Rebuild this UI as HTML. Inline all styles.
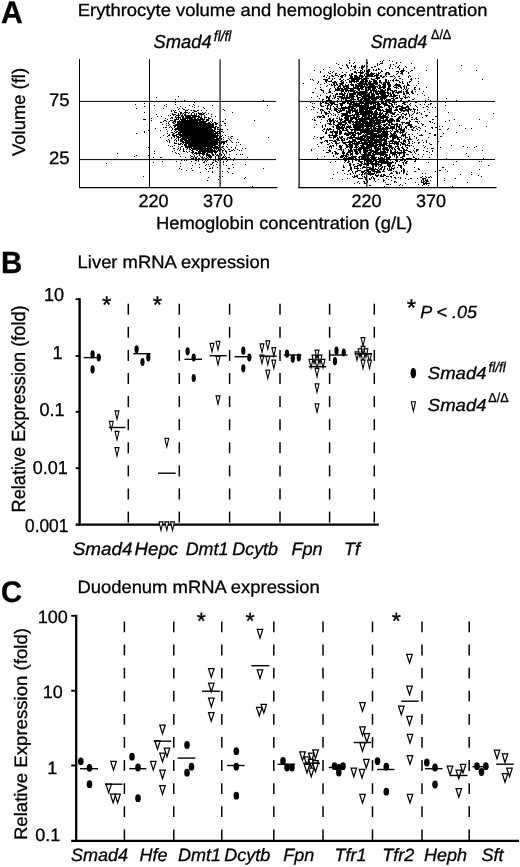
<!DOCTYPE html>
<html lang="en"><head><meta charset="utf-8"><title>Figure</title>
<style>html,body{margin:0;padding:0;background:#fff;overflow:hidden}svg{display:block}text{font-family:'Liberation Sans', sans-serif;fill:#000;stroke:#000;stroke-width:0.3px}</style>
</head><body>
<svg width="520" height="867" viewBox="0 0 520 867" shape-rendering="auto" text-rendering="geometricPrecision">
<rect width="520" height="867" fill="#fff"/>
<text transform="translate(1.0,22.7) scale(0.963,1)" font-size="31.3" font-weight="bold" stroke="none" text-anchor="start">A</text>
<text transform="translate(77.7,16) scale(1.053,1)" font-size="17.5" text-anchor="start">Erythrocyte volume and hemoglobin concentration</text>
<text transform="translate(153.6,47.85) scale(0.984,1)" font-size="18.6" font-style="italic" text-anchor="start">Smad4</text>
<text transform="translate(213.8,41.3) scale(0.95,1)" font-size="14.5" font-style="italic" text-anchor="start">fl/fl</text>
<text transform="translate(370.7,47.85) scale(0.96,1)" font-size="18.6" font-style="italic" text-anchor="start">Smad4</text>
<text transform="translate(431,38.7) scale(0.93,1)" font-size="13.5" text-anchor="start">Δ/Δ</text>
<text transform="translate(25.2,155.9) rotate(-90) scale(1.012,1)" font-size="18.2" text-anchor="start">Volume (fl)</text>
<text transform="translate(49,105.9) scale(1.03,1)" font-size="18" text-anchor="start">75</text>
<text transform="translate(49,163.5) scale(1.03,1)" font-size="18" text-anchor="start">25</text>
<text transform="translate(138.5,207)" font-size="18" text-anchor="start">220</text>
<text transform="translate(203,207)" font-size="18" text-anchor="start">370</text>
<text transform="translate(351.5,207)" font-size="18" text-anchor="start">220</text>
<text transform="translate(416,207)" font-size="18" text-anchor="start">370</text>
<text transform="translate(156,228.7) scale(1.05,1)" font-size="17.5" text-anchor="start">Hemoglobin concentration (g/L)</text>
<line x1="79.5" y1="59" x2="79.5" y2="188" stroke="#000" stroke-width="1"/>
<line x1="79" y1="187.6" x2="277.5" y2="187.6" stroke="#000" stroke-width="1.2"/>
<line x1="149.5" y1="59" x2="149.5" y2="188" stroke="#000" stroke-width="1"/>
<line x1="220.1" y1="59.3" x2="220.1" y2="188" stroke="#000" stroke-width="1.1"/>
<line x1="79" y1="101.4" x2="276" y2="101.4" stroke="#000" stroke-width="1"/>
<line x1="79" y1="159.6" x2="276" y2="159.6" stroke="#000" stroke-width="1"/>
<line x1="299.1" y1="59" x2="299.1" y2="188" stroke="#000" stroke-width="1.2"/>
<line x1="298.5" y1="187.6" x2="496.5" y2="187.6" stroke="#000" stroke-width="1.2"/>
<line x1="366.8" y1="59" x2="366.8" y2="188" stroke="#000" stroke-width="1.1"/>
<line x1="437.5" y1="59" x2="437.5" y2="188" stroke="#000" stroke-width="1"/>
<line x1="298.5" y1="101.4" x2="495" y2="101.4" stroke="#000" stroke-width="1"/>
<line x1="298.5" y1="159.5" x2="495" y2="159.5" stroke="#000" stroke-width="1"/>
<path d="M178 96.5h1M156 97.5h1M175 99.5h1M184 100.5h1M263 100.5h1M193 101.5h1M175 102.5h1M194 102.5h1M144 103.5h1M135 104.5h1M166 104.5h1M175 104.5h1M193 104.5h1M154 105.5h1M164 105.5h1M189 105.5h1M194 105.5h1M212 105.5h1M267 105.5h1M144 106.5h1M166 106.5h1M180 106.5h1M192 106.5h1M198 106.5h1M177 107.5h1M185 107.5h1M194 107.5h1M203 107.5h1M136 108.5h1M163 108.5h1M179 108.5h1M182 108.5h1M204 108.5h1M178 109.5h1M183 109.5h2M188 109.5h1M223 109.5h1M171 110.5h1M173 110.5h1M175 110.5h1M185 110.5h3M191 110.5h1M193 110.5h2M197 110.5h2M201 110.5h1M206 110.5h1M224 110.5h1M171 111.5h1M174 111.5h1M179 111.5h1M185 111.5h1M194 111.5h3M144 112.5h1M174 112.5h3M180 112.5h2M184 112.5h4M189 112.5h1M192 112.5h2M198 112.5h1M202 112.5h1M205 112.5h1M232 112.5h1M172 113.5h1M178 113.5h1M180 113.5h2M183 113.5h1M185 113.5h1M188 113.5h1M191 113.5h1M194 113.5h1M196 113.5h1M198 113.5h4M203 113.5h2M208 113.5h1M156 114.5h1M172 114.5h4M178 114.5h1M180 114.5h1M182 114.5h1M184 114.5h2M191 114.5h1M194 114.5h1M196 114.5h1M199 114.5h5M206 114.5h1M211 114.5h1M168 115.5h1M170 115.5h1M173 115.5h1M176 115.5h4M181 115.5h2M184 115.5h13M198 115.5h1M201 115.5h1M204 115.5h1M157 116.5h1M161 116.5h1M175 116.5h1M178 116.5h1M181 116.5h3M185 116.5h6M192 116.5h8M201 116.5h1M204 116.5h1M211 116.5h1M215 116.5h1M171 117.5h2M175 117.5h6M182 117.5h2M185 117.5h11M198 117.5h4M204 117.5h3M208 117.5h1M151 118.5h1M165 118.5h1M170 118.5h1M172 118.5h1M176 118.5h1M178 118.5h1M180 118.5h1M182 118.5h11M194 118.5h2M197 118.5h2M200 118.5h3M204 118.5h1M208 118.5h3M143 119.5h3M167 119.5h1M174 119.5h5M180 119.5h6M187 119.5h1M189 119.5h16M206 119.5h3M212 119.5h1M225 119.5h1M151 120.5h1M164 120.5h2M170 120.5h3M174 120.5h2M179 120.5h1M181 120.5h20M202 120.5h2M206 120.5h3M212 120.5h1M254 120.5h1M163 121.5h1M166 121.5h1M169 121.5h1M173 121.5h3M177 121.5h21M199 121.5h8M210 121.5h1M212 121.5h1M220 121.5h1M222 121.5h2M160 122.5h2M168 122.5h1M172 122.5h2M175 122.5h1M177 122.5h29M208 122.5h2M211 122.5h1M214 122.5h2M166 123.5h1M168 123.5h1M173 123.5h2M177 123.5h34M212 123.5h2M215 123.5h3M224 123.5h2M162 124.5h1M169 124.5h1M175 124.5h39M215 124.5h2M166 125.5h1M168 125.5h1M173 125.5h41M219 125.5h1M221 125.5h1M225 125.5h1M170 126.5h1M174 126.5h2M177 126.5h37M215 126.5h2M163 127.5h1M165 127.5h2M169 127.5h1M171 127.5h1M174 127.5h1M177 127.5h39M217 127.5h2M155 128.5h1M172 128.5h1M175 128.5h37M214 128.5h2M217 128.5h1M220 128.5h1M166 129.5h1M172 129.5h1M174 129.5h39M214 129.5h2M217 129.5h6M227 129.5h1M148 130.5h1M160 130.5h1M171 130.5h1M175 130.5h1M178 130.5h37M219 130.5h1M144 131.5h1M167 131.5h1M174 131.5h1M176 131.5h2M179 131.5h37M217 131.5h3M221 131.5h2M144 132.5h1M171 132.5h2M175 132.5h2M178 132.5h36M215 132.5h3M219 132.5h2M223 132.5h1M136 133.5h1M167 133.5h1M173 133.5h2M178 133.5h3M182 133.5h39M169 134.5h1M172 134.5h2M176 134.5h40M217 134.5h1M220 134.5h1M163 135.5h1M168 135.5h2M172 135.5h5M179 135.5h40M220 135.5h1M222 135.5h1M225 135.5h1M167 136.5h1M173 136.5h2M176 136.5h3M180 136.5h38M219 136.5h3M228 136.5h1M231 136.5h2M160 137.5h1M171 137.5h1M174 137.5h1M177 137.5h4M182 137.5h36M219 137.5h2M223 137.5h1M230 137.5h1M268 137.5h1M171 138.5h1M176 138.5h1M178 138.5h1M181 138.5h34M216 138.5h6M228 138.5h1M231 138.5h1M168 139.5h1M175 139.5h1M178 139.5h1M180 139.5h7M188 139.5h31M221 139.5h1M223 139.5h1M229 139.5h1M237 139.5h1M166 140.5h1M169 140.5h1M174 140.5h1M176 140.5h1M178 140.5h1M180 140.5h3M184 140.5h37M226 140.5h2M230 140.5h1M167 141.5h1M169 141.5h1M176 141.5h1M180 141.5h4M185 141.5h33M219 141.5h1M221 141.5h6M231 141.5h1M169 142.5h1M174 142.5h1M182 142.5h38M221 142.5h4M226 142.5h1M232 142.5h1M236 142.5h1M238 142.5h1M174 143.5h3M178 143.5h1M180 143.5h2M183 143.5h1M185 143.5h33M219 143.5h3M223 143.5h2M178 144.5h3M182 144.5h1M184 144.5h3M188 144.5h30M219 144.5h2M223 144.5h1M227 144.5h1M240 144.5h1M168 145.5h1M174 145.5h1M184 145.5h3M188 145.5h28M218 145.5h3M236 145.5h1M170 146.5h1M172 146.5h1M178 146.5h1M181 146.5h2M185 146.5h28M214 146.5h4M219 146.5h1M222 146.5h2M226 146.5h1M148 147.5h1M180 147.5h1M185 147.5h7M193 147.5h13M207 147.5h13M221 147.5h2M227 147.5h1M231 147.5h1M235 147.5h1M173 148.5h2M178 148.5h1M180 148.5h1M183 148.5h1M187 148.5h1M189 148.5h1M191 148.5h21M213 148.5h6M220 148.5h1M223 148.5h1M235 148.5h1M242 148.5h1M245 148.5h1M177 149.5h1M180 149.5h1M183 149.5h1M186 149.5h1M189 149.5h2M192 149.5h21M214 149.5h1M216 149.5h1M218 149.5h4M224 149.5h1M228 149.5h2M233 149.5h1M237 149.5h1M174 150.5h1M179 150.5h1M183 150.5h1M191 150.5h2M196 150.5h2M199 150.5h17M217 150.5h3M222 150.5h2M225 150.5h1M231 150.5h2M234 150.5h1M239 150.5h1M241 150.5h1M154 151.5h1M172 151.5h1M183 151.5h2M186 151.5h1M189 151.5h1M192 151.5h2M198 151.5h20M219 151.5h1M222 151.5h1M225 151.5h2M229 151.5h2M175 152.5h1M187 152.5h1M191 152.5h3M195 152.5h2M198 152.5h3M202 152.5h4M207 152.5h6M214 152.5h3M222 152.5h1M226 152.5h1M117 153.5h1M154 153.5h1M176 153.5h1M178 153.5h1M192 153.5h1M194 153.5h11M206 153.5h2M211 153.5h2M215 153.5h1M219 153.5h2M223 153.5h1M226 153.5h1M179 154.5h1M193 154.5h1M196 154.5h1M199 154.5h1M202 154.5h3M206 154.5h4M212 154.5h2M215 154.5h1M217 154.5h1M219 154.5h1M221 154.5h1M224 154.5h1M229 154.5h1M236 154.5h1M240 154.5h1M242 154.5h1M136 155.5h1M148 155.5h1M190 155.5h1M194 155.5h1M199 155.5h1M203 155.5h1M206 155.5h5M212 155.5h2M216 155.5h3M221 155.5h1M224 155.5h1M134 156.5h1M180 156.5h1M191 156.5h2M194 156.5h1M197 156.5h1M200 156.5h1M202 156.5h1M206 156.5h1M208 156.5h4M215 156.5h1M218 156.5h2M223 156.5h1M225 156.5h1M153 157.5h1M160 157.5h2M185 157.5h1M190 157.5h1M193 157.5h1M195 157.5h2M201 157.5h2M204 157.5h1M207 157.5h1M209 157.5h3M215 157.5h1M218 157.5h1M222 157.5h3M226 157.5h1M228 157.5h2M247 157.5h1M191 158.5h3M195 158.5h2M198 158.5h2M202 158.5h2M205 158.5h2M208 158.5h1M210 158.5h1M215 158.5h1M218 158.5h2M221 158.5h2M225 158.5h2M230 158.5h1M234 158.5h1M154 159.5h1M178 159.5h1M194 159.5h1M197 159.5h1M199 159.5h1M209 159.5h2M212 159.5h2M216 159.5h2M224 159.5h2M228 159.5h1M249 159.5h1M181 160.5h1M184 160.5h1M186 160.5h1M195 160.5h2M198 160.5h1M202 160.5h1M205 160.5h1M207 160.5h1M213 160.5h1M215 160.5h1M218 160.5h1M220 160.5h1M227 160.5h1M233 160.5h1M162 161.5h1M176 161.5h1M191 161.5h1M198 161.5h1M204 161.5h1M206 161.5h1M215 161.5h2M223 161.5h1M226 161.5h1M153 162.5h1M203 162.5h2M212 162.5h2M217 162.5h1M220 162.5h1M223 162.5h1M106 163.5h1M180 163.5h1M195 163.5h1M212 163.5h1M199 164.5h1M206 164.5h1M208 164.5h1M210 164.5h2M216 164.5h1M223 164.5h1M232 164.5h1M245 164.5h1M192 165.5h1M205 165.5h1M213 165.5h1M219 165.5h1M226 165.5h1M180 166.5h1M209 166.5h1M199 167.5h1M212 167.5h1M217 167.5h1M233 167.5h1M179 168.5h1M191 168.5h1M205 168.5h1M209 168.5h2M212 168.5h1M228 168.5h2M263 168.5h1M181 169.5h1M206 169.5h1M186 170.5h1M192 170.5h1M208 171.5h1M212 171.5h1M222 171.5h1M227 171.5h1M200 172.5h1M212 172.5h1M228 172.5h1M232 173.5h1M143 176.5h1M219 176.5h1M222 176.5h1M208 177.5h1M245 177.5h1M244 178.5h1M218 179.5h1M207 180.5h1M220 183.5h1M252 186.5h1" stroke="#000" stroke-width="1" fill="none"/>
<path d="M349 60.5h1M383 60.5h1M389 60.5h1M380 61.5h1M382 61.5h1M392 61.5h1M349 62.5h1M354 62.5h1M367 62.5h1M382 62.5h1M396 62.5h1M400 62.5h1M336 63.5h1M349 63.5h1M353 63.5h1M367 63.5h1M377 63.5h1M380 63.5h3M396 63.5h1M411 63.5h1M338 64.5h1M346 64.5h1M377 64.5h1M379 64.5h1M390 64.5h1M393 64.5h1M342 65.5h1M346 65.5h2M351 65.5h1M355 65.5h1M362 65.5h1M364 65.5h1M377 65.5h1M390 65.5h1M399 65.5h1M461 65.5h1M347 66.5h1M351 66.5h1M353 66.5h3M361 66.5h4M367 66.5h1M374 66.5h2M390 66.5h1M395 66.5h1M398 66.5h1M405 66.5h1M329 67.5h1M339 67.5h1M347 67.5h2M354 67.5h2M359 67.5h1M361 67.5h3M371 67.5h2M389 67.5h1M397 67.5h2M406 67.5h1M414 67.5h1M340 68.5h2M348 68.5h1M354 68.5h1M361 68.5h2M378 68.5h1M389 68.5h1M392 68.5h1M399 68.5h1M403 68.5h1M414 68.5h1M323 69.5h1M352 69.5h1M355 69.5h1M362 69.5h1M368 69.5h2M373 69.5h1M376 69.5h1M378 69.5h2M385 69.5h1M399 69.5h1M403 69.5h1M314 70.5h1M350 70.5h1M357 70.5h1M360 70.5h2M364 70.5h1M367 70.5h3M373 70.5h1M375 70.5h2M381 70.5h1M401 70.5h4M411 70.5h2M426 70.5h1M476 70.5h1M320 71.5h1M330 71.5h1M333 71.5h1M354 71.5h2M360 71.5h1M362 71.5h1M364 71.5h1M366 71.5h4M381 71.5h2M396 71.5h3M400 71.5h4M406 71.5h1M410 71.5h1M320 72.5h1M328 72.5h1M332 72.5h1M342 72.5h1M346 72.5h1M354 72.5h3M358 72.5h6M367 72.5h2M371 72.5h1M378 72.5h1M380 72.5h1M386 72.5h3M398 72.5h1M401 72.5h2M408 72.5h1M329 73.5h2M335 73.5h2M351 73.5h2M356 73.5h1M360 73.5h3M365 73.5h4M370 73.5h5M376 73.5h1M378 73.5h2M385 73.5h2M388 73.5h2M397 73.5h1M400 73.5h3M408 73.5h1M335 74.5h1M339 74.5h1M344 74.5h2M349 74.5h1M351 74.5h2M360 74.5h1M364 74.5h1M366 74.5h8M376 74.5h3M385 74.5h2M388 74.5h2M396 74.5h1M402 74.5h1M324 75.5h1M327 75.5h1M331 75.5h2M335 75.5h3M341 75.5h3M345 75.5h1M349 75.5h3M354 75.5h3M359 75.5h4M364 75.5h1M367 75.5h6M374 75.5h5M380 75.5h2M385 75.5h1M393 75.5h1M409 75.5h1M323 76.5h2M329 76.5h1M332 76.5h2M338 76.5h1M340 76.5h3M345 76.5h1M350 76.5h3M354 76.5h4M359 76.5h5M365 76.5h10M376 76.5h2M380 76.5h2M383 76.5h2M386 76.5h1M390 76.5h3M394 76.5h1M398 76.5h2M408 76.5h1M410 76.5h1M326 77.5h1M329 77.5h1M341 77.5h2M350 77.5h3M354 77.5h6M361 77.5h2M365 77.5h2M376 77.5h4M382 77.5h2M395 77.5h1M408 77.5h1M328 78.5h2M332 78.5h1M334 78.5h1M340 78.5h1M349 78.5h13M363 78.5h6M371 78.5h1M375 78.5h5M394 78.5h1M399 78.5h2M411 78.5h1M415 78.5h1M418 78.5h1M310 79.5h1M312 79.5h1M323 79.5h5M332 79.5h1M339 79.5h2M343 79.5h1M347 79.5h2M351 79.5h9M361 79.5h6M371 79.5h4M377 79.5h1M385 79.5h2M393 79.5h1M396 79.5h1M402 79.5h1M410 79.5h2M482 79.5h1M313 80.5h1M325 80.5h3M331 80.5h1M341 80.5h2M345 80.5h1M349 80.5h1M351 80.5h4M356 80.5h3M361 80.5h3M365 80.5h3M369 80.5h1M373 80.5h4M379 80.5h2M385 80.5h2M388 80.5h1M390 80.5h1M392 80.5h2M395 80.5h4M411 80.5h1M318 81.5h1M325 81.5h2M328 81.5h4M334 81.5h2M340 81.5h2M343 81.5h1M349 81.5h10M360 81.5h8M369 81.5h3M373 81.5h4M379 81.5h2M385 81.5h2M388 81.5h1M393 81.5h1M399 81.5h1M402 81.5h1M409 81.5h2M418 81.5h1M318 82.5h1M326 82.5h1M332 82.5h5M341 82.5h3M346 82.5h1M349 82.5h3M354 82.5h1M356 82.5h1M359 82.5h5M365 82.5h1M368 82.5h3M373 82.5h5M379 82.5h3M383 82.5h7M399 82.5h2M402 82.5h1M407 82.5h1M409 82.5h1M303 83.5h1M317 83.5h1M324 83.5h1M333 83.5h2M336 83.5h1M339 83.5h5M351 83.5h1M357 83.5h10M368 83.5h10M381 83.5h1M383 83.5h3M387 83.5h3M396 83.5h1M402 83.5h2M407 83.5h1M418 83.5h1M320 84.5h1M329 84.5h1M331 84.5h1M333 84.5h2M336 84.5h2M340 84.5h3M345 84.5h1M348 84.5h1M350 84.5h4M355 84.5h2M358 84.5h16M375 84.5h3M379 84.5h1M382 84.5h4M387 84.5h4M395 84.5h5M407 84.5h2M327 85.5h1M331 85.5h2M334 85.5h2M337 85.5h1M339 85.5h2M342 85.5h2M345 85.5h4M351 85.5h3M355 85.5h8M364 85.5h1M367 85.5h1M369 85.5h6M378 85.5h3M383 85.5h3M388 85.5h3M394 85.5h7M404 85.5h1M407 85.5h3M416 85.5h1M326 86.5h1M334 86.5h1M338 86.5h3M343 86.5h6M353 86.5h1M355 86.5h11M368 86.5h10M379 86.5h2M382 86.5h4M388 86.5h3M393 86.5h1M396 86.5h1M398 86.5h3M403 86.5h2M406 86.5h1M320 87.5h1M334 87.5h1M337 87.5h2M340 87.5h1M343 87.5h2M346 87.5h3M353 87.5h6M360 87.5h4M365 87.5h11M377 87.5h1M379 87.5h7M388 87.5h2M394 87.5h4M400 87.5h2M404 87.5h1M406 87.5h1M414 87.5h2M426 87.5h1M315 88.5h1M330 88.5h1M335 88.5h1M337 88.5h6M344 88.5h19M365 88.5h2M368 88.5h3M372 88.5h4M378 88.5h3M383 88.5h2M387 88.5h4M396 88.5h1M398 88.5h1M401 88.5h1M404 88.5h1M406 88.5h1M408 88.5h1M414 88.5h1M419 88.5h1M320 89.5h2M329 89.5h1M335 89.5h5M341 89.5h7M350 89.5h4M357 89.5h3M361 89.5h3M365 89.5h2M368 89.5h3M372 89.5h3M376 89.5h1M380 89.5h3M385 89.5h1M387 89.5h4M403 89.5h1M405 89.5h1M407 89.5h1M414 89.5h2M419 89.5h1M321 90.5h3M329 90.5h1M335 90.5h9M345 90.5h11M358 90.5h2M365 90.5h4M370 90.5h7M378 90.5h1M380 90.5h6M387 90.5h2M390 90.5h3M394 90.5h3M401 90.5h1M406 90.5h2M412 90.5h1M323 91.5h1M329 91.5h2M334 91.5h1M341 91.5h3M345 91.5h2M348 91.5h1M350 91.5h5M356 91.5h2M359 91.5h8M370 91.5h2M373 91.5h12M387 91.5h1M392 91.5h3M396 91.5h1M398 91.5h4M403 91.5h1M405 91.5h3M411 91.5h2M415 91.5h1M423 91.5h1M312 92.5h2M323 92.5h1M328 92.5h3M341 92.5h1M344 92.5h1M348 92.5h1M353 92.5h15M369 92.5h3M373 92.5h1M375 92.5h3M379 92.5h10M390 92.5h1M392 92.5h2M395 92.5h7M403 92.5h1M406 92.5h3M411 92.5h2M326 93.5h1M332 93.5h1M336 93.5h2M339 93.5h4M344 93.5h2M347 93.5h1M349 93.5h7M357 93.5h9M368 93.5h2M371 93.5h3M375 93.5h11M387 93.5h4M392 93.5h2M397 93.5h2M403 93.5h2M406 93.5h3M412 93.5h2M422 93.5h1M335 94.5h3M339 94.5h6M347 94.5h1M349 94.5h7M357 94.5h13M371 94.5h4M376 94.5h3M380 94.5h6M388 94.5h1M390 94.5h2M393 94.5h2M403 94.5h2M409 94.5h1M417 94.5h1M320 95.5h1M330 95.5h1M333 95.5h1M335 95.5h1M342 95.5h3M346 95.5h2M349 95.5h5M356 95.5h2M359 95.5h3M363 95.5h7M371 95.5h4M378 95.5h1M381 95.5h8M390 95.5h2M393 95.5h5M399 95.5h1M405 95.5h1M424 95.5h1M317 96.5h1M326 96.5h2M329 96.5h2M333 96.5h1M335 96.5h1M337 96.5h6M344 96.5h1M346 96.5h2M349 96.5h6M356 96.5h2M361 96.5h14M376 96.5h12M389 96.5h7M399 96.5h1M403 96.5h1M405 96.5h1M408 96.5h1M311 97.5h1M326 97.5h4M334 97.5h2M339 97.5h15M357 97.5h4M362 97.5h5M368 97.5h19M393 97.5h1M396 97.5h2M399 97.5h1M404 97.5h4M409 97.5h1M428 97.5h1M319 98.5h1M326 98.5h1M328 98.5h2M332 98.5h1M334 98.5h1M337 98.5h2M341 98.5h9M351 98.5h3M357 98.5h2M361 98.5h18M380 98.5h6M391 98.5h3M395 98.5h3M400 98.5h3M405 98.5h1M414 98.5h1M446 98.5h1M322 99.5h2M328 99.5h2M338 99.5h1M341 99.5h1M343 99.5h1M345 99.5h2M350 99.5h6M357 99.5h2M360 99.5h3M364 99.5h6M371 99.5h6M379 99.5h4M384 99.5h1M386 99.5h5M393 99.5h2M401 99.5h1M412 99.5h2M428 99.5h1M322 100.5h1M326 100.5h6M337 100.5h1M341 100.5h1M345 100.5h7M353 100.5h1M358 100.5h4M363 100.5h8M372 100.5h4M381 100.5h2M385 100.5h6M392 100.5h3M400 100.5h2M408 100.5h2M425 100.5h1M430 100.5h1M456 100.5h1M318 101.5h1M325 101.5h3M329 101.5h1M331 101.5h3M336 101.5h1M338 101.5h1M342 101.5h3M346 101.5h11M359 101.5h5M365 101.5h2M368 101.5h8M378 101.5h6M385 101.5h2M388 101.5h3M392 101.5h2M403 101.5h1M405 101.5h2M419 101.5h1M430 101.5h2M438 101.5h2M475 101.5h1M310 102.5h1M320 102.5h1M322 102.5h2M325 102.5h2M329 102.5h6M337 102.5h1M342 102.5h4M347 102.5h2M350 102.5h5M356 102.5h1M359 102.5h5M365 102.5h14M381 102.5h3M385 102.5h2M388 102.5h2M392 102.5h5M403 102.5h3M407 102.5h1M415 102.5h2M425 102.5h1M445 102.5h1M312 103.5h1M314 103.5h1M320 103.5h2M325 103.5h4M330 103.5h5M339 103.5h6M347 103.5h5M353 103.5h23M377 103.5h3M381 103.5h6M389 103.5h3M394 103.5h1M402 103.5h3M410 103.5h1M430 103.5h2M320 104.5h1M328 104.5h2M331 104.5h2M334 104.5h4M340 104.5h3M349 104.5h11M361 104.5h1M364 104.5h5M370 104.5h2M373 104.5h1M375 104.5h6M383 104.5h5M391 104.5h2M394 104.5h1M396 104.5h1M404 104.5h2M409 104.5h1M420 104.5h1M424 104.5h1M428 104.5h1M430 104.5h1M320 105.5h2M325 105.5h1M327 105.5h2M330 105.5h2M337 105.5h1M340 105.5h3M349 105.5h2M352 105.5h17M373 105.5h3M377 105.5h3M384 105.5h6M391 105.5h2M398 105.5h2M402 105.5h1M407 105.5h1M410 105.5h1M415 105.5h1M445 105.5h1M312 106.5h1M321 106.5h3M327 106.5h1M330 106.5h1M333 106.5h1M336 106.5h2M341 106.5h1M345 106.5h1M348 106.5h21M370 106.5h6M377 106.5h5M384 106.5h1M388 106.5h3M392 106.5h2M396 106.5h7M406 106.5h3M416 106.5h1M426 106.5h2M306 107.5h1M313 107.5h2M327 107.5h1M330 107.5h1M334 107.5h1M337 107.5h1M341 107.5h13M356 107.5h1M359 107.5h17M377 107.5h6M388 107.5h2M391 107.5h1M393 107.5h1M395 107.5h3M401 107.5h8M417 107.5h1M423 107.5h1M428 107.5h1M432 107.5h1M435 107.5h1M318 108.5h1M326 108.5h3M330 108.5h1M334 108.5h3M338 108.5h12M351 108.5h5M359 108.5h21M386 108.5h1M389 108.5h3M396 108.5h1M399 108.5h7M408 108.5h2M413 108.5h1M311 109.5h1M313 109.5h1M320 109.5h3M327 109.5h1M329 109.5h2M334 109.5h4M340 109.5h1M342 109.5h3M348 109.5h5M354 109.5h2M357 109.5h1M359 109.5h9M369 109.5h5M376 109.5h5M382 109.5h1M385 109.5h7M395 109.5h3M399 109.5h4M405 109.5h7M413 109.5h3M417 109.5h1M427 109.5h1M320 110.5h1M322 110.5h2M331 110.5h1M334 110.5h3M338 110.5h7M346 110.5h1M348 110.5h10M359 110.5h5M365 110.5h7M375 110.5h2M378 110.5h6M386 110.5h6M394 110.5h4M400 110.5h9M410 110.5h1M414 110.5h1M417 110.5h1M321 111.5h1M324 111.5h1M328 111.5h2M336 111.5h2M339 111.5h3M346 111.5h5M352 111.5h6M359 111.5h14M374 111.5h3M380 111.5h1M383 111.5h9M398 111.5h1M401 111.5h1M403 111.5h2M407 111.5h2M412 111.5h1M414 111.5h1M424 111.5h1M317 112.5h1M321 112.5h1M324 112.5h3M329 112.5h1M337 112.5h3M346 112.5h5M352 112.5h1M355 112.5h18M374 112.5h4M379 112.5h2M382 112.5h1M386 112.5h7M394 112.5h2M399 112.5h2M408 112.5h1M414 112.5h1M417 112.5h1M419 112.5h1M429 112.5h1M448 112.5h1M321 113.5h1M325 113.5h4M330 113.5h1M333 113.5h1M341 113.5h7M349 113.5h2M355 113.5h4M360 113.5h18M379 113.5h4M385 113.5h3M390 113.5h5M402 113.5h2M406 113.5h1M408 113.5h1M413 113.5h1M416 113.5h2M421 113.5h1M493 113.5h1M325 114.5h2M331 114.5h1M335 114.5h1M338 114.5h1M342 114.5h6M352 114.5h1M354 114.5h16M371 114.5h11M383 114.5h1M385 114.5h2M388 114.5h1M392 114.5h3M397 114.5h2M401 114.5h1M404 114.5h3M409 114.5h1M412 114.5h1M421 114.5h1M322 115.5h2M328 115.5h1M333 115.5h1M335 115.5h1M341 115.5h14M356 115.5h3M362 115.5h5M368 115.5h4M373 115.5h4M379 115.5h2M382 115.5h4M388 115.5h1M391 115.5h1M396 115.5h1M401 115.5h1M405 115.5h1M409 115.5h1M411 115.5h1M425 115.5h3M317 116.5h5M323 116.5h2M328 116.5h1M337 116.5h1M341 116.5h2M345 116.5h6M353 116.5h2M356 116.5h4M362 116.5h5M368 116.5h4M373 116.5h4M378 116.5h10M391 116.5h2M394 116.5h2M399 116.5h2M402 116.5h2M409 116.5h1M426 116.5h1M435 116.5h2M314 117.5h1M317 117.5h1M319 117.5h2M322 117.5h3M339 117.5h1M344 117.5h5M350 117.5h9M361 117.5h2M364 117.5h6M371 117.5h18M398 117.5h3M402 117.5h2M405 117.5h1M411 117.5h2M416 117.5h1M422 117.5h1M437 117.5h1M329 118.5h2M333 118.5h1M336 118.5h2M339 118.5h1M341 118.5h1M344 118.5h5M350 118.5h7M358 118.5h20M380 118.5h4M386 118.5h2M390 118.5h3M397 118.5h3M402 118.5h1M406 118.5h2M415 118.5h2M312 119.5h1M314 119.5h1M321 119.5h1M328 119.5h3M332 119.5h2M339 119.5h4M345 119.5h4M350 119.5h3M355 119.5h19M375 119.5h6M383 119.5h1M385 119.5h3M389 119.5h5M396 119.5h3M400 119.5h1M406 119.5h1M411 119.5h2M414 119.5h1M416 119.5h2M432 119.5h2M454 119.5h1M479 119.5h1M314 120.5h2M327 120.5h1M329 120.5h5M335 120.5h1M337 120.5h1M340 120.5h2M344 120.5h8M356 120.5h2M359 120.5h7M369 120.5h26M396 120.5h4M409 120.5h1M449 120.5h1M327 121.5h1M329 121.5h3M333 121.5h2M336 121.5h2M340 121.5h1M342 121.5h4M348 121.5h6M355 121.5h13M369 121.5h6M376 121.5h5M382 121.5h4M387 121.5h6M394 121.5h1M396 121.5h4M409 121.5h2M415 121.5h3M419 121.5h1M429 121.5h2M445 121.5h1M320 122.5h1M330 122.5h1M333 122.5h2M338 122.5h9M348 122.5h3M352 122.5h9M362 122.5h23M388 122.5h4M401 122.5h4M406 122.5h4M417 122.5h1M430 122.5h1M432 122.5h1M327 123.5h4M333 123.5h1M338 123.5h4M345 123.5h2M349 123.5h2M353 123.5h1M355 123.5h26M386 123.5h2M389 123.5h1M391 123.5h2M396 123.5h2M402 123.5h1M405 123.5h5M418 123.5h1M421 123.5h1M434 123.5h1M316 124.5h1M325 124.5h1M329 124.5h3M333 124.5h2M337 124.5h9M347 124.5h1M352 124.5h12M365 124.5h8M374 124.5h6M381 124.5h1M383 124.5h4M388 124.5h2M391 124.5h7M399 124.5h2M402 124.5h1M408 124.5h4M422 124.5h2M322 125.5h1M325 125.5h1M335 125.5h4M340 125.5h1M342 125.5h3M348 125.5h1M350 125.5h1M353 125.5h23M378 125.5h3M383 125.5h3M388 125.5h3M394 125.5h1M396 125.5h2M399 125.5h2M407 125.5h5M422 125.5h1M459 125.5h1M322 126.5h1M325 126.5h1M332 126.5h2M336 126.5h4M341 126.5h2M344 126.5h1M346 126.5h5M353 126.5h22M376 126.5h6M384 126.5h1M386 126.5h2M390 126.5h5M396 126.5h4M401 126.5h1M405 126.5h2M410 126.5h3M415 126.5h2M425 126.5h1M439 126.5h1M442 126.5h1M486 126.5h1M314 127.5h1M322 127.5h1M333 127.5h1M336 127.5h9M346 127.5h6M353 127.5h11M366 127.5h3M370 127.5h2M373 127.5h3M378 127.5h3M382 127.5h2M385 127.5h4M390 127.5h5M396 127.5h1M398 127.5h2M401 127.5h1M405 127.5h2M410 127.5h2M413 127.5h2M418 127.5h2M431 127.5h2M435 127.5h2M324 128.5h1M327 128.5h1M329 128.5h2M336 128.5h8M345 128.5h2M349 128.5h1M354 128.5h7M362 128.5h2M365 128.5h1M367 128.5h5M373 128.5h22M396 128.5h1M399 128.5h3M404 128.5h1M406 128.5h1M413 128.5h1M416 128.5h1M420 128.5h1M432 128.5h1M448 128.5h1M465 128.5h1M471 128.5h1M323 129.5h2M326 129.5h6M333 129.5h1M337 129.5h3M342 129.5h2M346 129.5h2M350 129.5h20M371 129.5h5M377 129.5h11M392 129.5h1M395 129.5h2M398 129.5h7M408 129.5h1M411 129.5h2M417 129.5h1M439 129.5h2M447 129.5h1M322 130.5h1M326 130.5h1M328 130.5h1M333 130.5h1M337 130.5h1M339 130.5h2M342 130.5h6M351 130.5h2M354 130.5h28M383 130.5h2M386 130.5h1M390 130.5h1M392 130.5h1M396 130.5h2M400 130.5h5M412 130.5h2M415 130.5h1M419 130.5h1M425 130.5h1M323 131.5h1M326 131.5h1M330 131.5h8M339 131.5h3M347 131.5h2M351 131.5h1M354 131.5h2M360 131.5h30M391 131.5h1M394 131.5h5M400 131.5h1M402 131.5h3M425 131.5h1M325 132.5h2M330 132.5h3M334 132.5h4M339 132.5h3M345 132.5h1M348 132.5h8M357 132.5h2M360 132.5h14M377 132.5h4M382 132.5h6M390 132.5h1M394 132.5h2M397 132.5h1M399 132.5h5M406 132.5h1M456 132.5h1M325 133.5h2M332 133.5h1M335 133.5h3M339 133.5h3M344 133.5h10M355 133.5h7M364 133.5h1M366 133.5h13M381 133.5h7M390 133.5h2M393 133.5h3M400 133.5h1M402 133.5h1M405 133.5h1M417 133.5h1M429 133.5h2M443 133.5h1M329 134.5h1M332 134.5h1M335 134.5h2M339 134.5h2M344 134.5h7M352 134.5h4M358 134.5h3M363 134.5h1M365 134.5h12M378 134.5h11M391 134.5h4M396 134.5h1M402 134.5h4M408 134.5h2M412 134.5h1M421 134.5h1M434 134.5h2M328 135.5h10M346 135.5h3M351 135.5h5M358 135.5h1M362 135.5h6M370 135.5h18M390 135.5h7M401 135.5h5M419 135.5h4M434 135.5h2M314 136.5h1M323 136.5h1M329 136.5h1M333 136.5h4M339 136.5h1M341 136.5h2M350 136.5h2M353 136.5h2M358 136.5h1M360 136.5h6M367 136.5h21M389 136.5h9M401 136.5h1M403 136.5h1M405 136.5h1M409 136.5h1M414 136.5h1M440 136.5h2M317 137.5h1M320 137.5h4M329 137.5h3M333 137.5h3M337 137.5h1M339 137.5h4M347 137.5h16M364 137.5h2M367 137.5h16M384 137.5h4M390 137.5h1M392 137.5h9M405 137.5h3M409 137.5h1M416 137.5h1M428 137.5h1M313 138.5h1M320 138.5h2M333 138.5h1M337 138.5h2M340 138.5h2M343 138.5h2M347 138.5h1M349 138.5h4M355 138.5h10M366 138.5h9M376 138.5h1M379 138.5h3M383 138.5h2M386 138.5h3M392 138.5h4M397 138.5h2M401 138.5h1M405 138.5h1M409 138.5h2M416 138.5h1M321 139.5h1M336 139.5h3M341 139.5h2M344 139.5h1M346 139.5h2M352 139.5h4M357 139.5h9M367 139.5h2M370 139.5h17M392 139.5h2M397 139.5h3M401 139.5h1M404 139.5h1M407 139.5h5M418 139.5h1M325 140.5h3M329 140.5h4M334 140.5h2M337 140.5h3M341 140.5h4M349 140.5h1M352 140.5h4M360 140.5h27M390 140.5h4M399 140.5h1M403 140.5h3M408 140.5h1M417 140.5h1M422 140.5h1M426 140.5h1M324 141.5h1M326 141.5h2M333 141.5h4M342 141.5h1M348 141.5h9M358 141.5h4M364 141.5h3M368 141.5h5M374 141.5h8M384 141.5h3M388 141.5h9M398 141.5h2M403 141.5h3M408 141.5h2M412 141.5h1M426 141.5h1M438 141.5h1M320 142.5h3M327 142.5h1M331 142.5h1M335 142.5h2M339 142.5h1M342 142.5h11M354 142.5h1M356 142.5h4M361 142.5h21M383 142.5h4M389 142.5h1M392 142.5h1M394 142.5h5M400 142.5h2M403 142.5h1M405 142.5h1M409 142.5h1M414 142.5h1M418 142.5h2M423 142.5h1M426 142.5h1M321 143.5h1M329 143.5h1M332 143.5h1M335 143.5h4M343 143.5h3M349 143.5h2M352 143.5h16M369 143.5h8M379 143.5h3M383 143.5h5M389 143.5h10M401 143.5h4M408 143.5h2M412 143.5h1M418 143.5h1M429 143.5h1M317 144.5h1M327 144.5h2M336 144.5h1M345 144.5h2M348 144.5h5M354 144.5h5M362 144.5h12M375 144.5h12M389 144.5h1M394 144.5h1M396 144.5h3M400 144.5h1M402 144.5h4M407 144.5h1M430 144.5h2M330 145.5h1M332 145.5h2M336 145.5h1M339 145.5h2M342 145.5h1M346 145.5h2M349 145.5h4M355 145.5h3M360 145.5h4M366 145.5h12M379 145.5h6M386 145.5h6M397 145.5h1M400 145.5h1M405 145.5h5M411 145.5h1M423 145.5h1M451 145.5h1M318 146.5h1M329 146.5h3M333 146.5h1M339 146.5h3M346 146.5h7M355 146.5h2M358 146.5h1M361 146.5h4M366 146.5h11M378 146.5h3M382 146.5h3M388 146.5h4M395 146.5h4M402 146.5h1M405 146.5h1M409 146.5h1M413 146.5h1M425 146.5h1M463 146.5h1M476 146.5h1M327 147.5h1M329 147.5h1M331 147.5h1M339 147.5h3M346 147.5h2M349 147.5h4M354 147.5h4M359 147.5h13M374 147.5h5M380 147.5h1M383 147.5h5M389 147.5h5M395 147.5h1M398 147.5h1M401 147.5h2M406 147.5h2M424 147.5h1M440 147.5h1M467 147.5h1M474 147.5h1M331 148.5h1M336 148.5h1M340 148.5h2M345 148.5h1M350 148.5h2M356 148.5h1M358 148.5h12M371 148.5h1M374 148.5h7M382 148.5h6M389 148.5h1M391 148.5h2M394 148.5h1M397 148.5h3M402 148.5h2M407 148.5h1M414 148.5h1M427 148.5h1M431 148.5h3M311 149.5h1M329 149.5h1M338 149.5h4M343 149.5h1M348 149.5h1M350 149.5h2M353 149.5h9M363 149.5h3M367 149.5h1M369 149.5h3M375 149.5h6M382 149.5h7M390 149.5h1M392 149.5h1M394 149.5h2M398 149.5h2M403 149.5h2M406 149.5h1M416 149.5h3M311 150.5h1M323 150.5h1M328 150.5h3M341 150.5h1M343 150.5h1M348 150.5h5M354 150.5h3M358 150.5h3M363 150.5h11M375 150.5h4M380 150.5h1M383 150.5h2M386 150.5h3M390 150.5h2M395 150.5h1M399 150.5h3M403 150.5h5M413 150.5h1M416 150.5h2M423 150.5h1M432 150.5h1M482 150.5h1M329 151.5h2M334 151.5h2M342 151.5h2M348 151.5h5M354 151.5h4M359 151.5h2M363 151.5h5M370 151.5h8M380 151.5h6M387 151.5h1M390 151.5h2M394 151.5h2M397 151.5h1M401 151.5h1M403 151.5h2M408 151.5h3M414 151.5h1M416 151.5h1M426 151.5h2M432 151.5h1M326 152.5h3M332 152.5h1M335 152.5h2M342 152.5h3M347 152.5h4M352 152.5h1M355 152.5h3M359 152.5h2M363 152.5h3M368 152.5h4M373 152.5h15M390 152.5h16M410 152.5h2M414 152.5h1M429 152.5h1M332 153.5h1M335 153.5h4M342 153.5h3M346 153.5h2M350 153.5h3M355 153.5h4M360 153.5h1M364 153.5h2M368 153.5h3M372 153.5h2M375 153.5h11M390 153.5h6M397 153.5h5M403 153.5h2M415 153.5h1M466 153.5h1M335 154.5h1M337 154.5h1M343 154.5h1M346 154.5h3M350 154.5h3M356 154.5h2M361 154.5h10M372 154.5h16M389 154.5h1M392 154.5h5M399 154.5h1M403 154.5h2M406 154.5h3M412 154.5h1M418 154.5h1M423 154.5h1M431 154.5h1M333 155.5h1M341 155.5h6M348 155.5h1M350 155.5h1M352 155.5h1M362 155.5h13M380 155.5h4M385 155.5h3M389 155.5h1M392 155.5h1M394 155.5h1M396 155.5h1M399 155.5h1M403 155.5h2M324 156.5h1M333 156.5h1M340 156.5h4M345 156.5h3M351 156.5h6M359 156.5h10M371 156.5h4M380 156.5h1M384 156.5h3M389 156.5h2M394 156.5h1M396 156.5h2M402 156.5h3M413 156.5h1M422 156.5h1M468 156.5h1M336 157.5h1M340 157.5h3M344 157.5h1M346 157.5h1M348 157.5h8M358 157.5h2M361 157.5h5M367 157.5h2M370 157.5h7M378 157.5h1M380 157.5h3M384 157.5h1M386 157.5h5M396 157.5h2M400 157.5h3M413 157.5h2M429 157.5h1M317 158.5h1M338 158.5h1M343 158.5h11M355 158.5h2M359 158.5h1M361 158.5h5M367 158.5h3M371 158.5h5M378 158.5h7M386 158.5h4M396 158.5h1M402 158.5h2M406 158.5h6M415 158.5h2M418 158.5h1M446 158.5h1M483 158.5h1M339 159.5h2M344 159.5h9M355 159.5h4M361 159.5h6M368 159.5h8M377 159.5h11M389 159.5h1M391 159.5h2M397 159.5h2M402 159.5h5M415 159.5h1M344 160.5h3M348 160.5h1M352 160.5h1M355 160.5h2M358 160.5h2M364 160.5h8M373 160.5h4M379 160.5h6M386 160.5h2M390 160.5h1M395 160.5h3M400 160.5h3M404 160.5h2M415 160.5h1M335 161.5h1M345 161.5h1M348 161.5h2M352 161.5h1M358 161.5h5M364 161.5h1M366 161.5h8M375 161.5h14M392 161.5h1M396 161.5h2M399 161.5h1M404 161.5h1M406 161.5h2M414 161.5h2M456 161.5h1M479 161.5h1M481 161.5h1M330 162.5h1M344 162.5h1M347 162.5h2M352 162.5h1M360 162.5h2M364 162.5h1M367 162.5h2M370 162.5h3M375 162.5h2M378 162.5h16M395 162.5h1M402 162.5h2M405 162.5h2M428 162.5h1M349 163.5h2M357 163.5h2M361 163.5h2M364 163.5h2M367 163.5h12M381 163.5h11M395 163.5h1M403 163.5h1M405 163.5h2M349 164.5h2M353 164.5h2M359 164.5h3M363 164.5h6M371 164.5h11M387 164.5h4M398 164.5h1M403 164.5h1M453 164.5h1M343 165.5h1M349 165.5h2M353 165.5h1M357 165.5h5M367 165.5h2M372 165.5h2M375 165.5h2M378 165.5h1M380 165.5h2M387 165.5h4M392 165.5h3M398 165.5h4M404 165.5h1M437 165.5h1M488 165.5h1M343 166.5h1M350 166.5h1M354 166.5h4M360 166.5h1M363 166.5h2M372 166.5h2M375 166.5h2M379 166.5h2M382 166.5h1M384 166.5h2M388 166.5h3M392 166.5h1M400 166.5h2M343 167.5h2M350 167.5h2M354 167.5h1M357 167.5h1M362 167.5h4M367 167.5h4M372 167.5h2M378 167.5h1M381 167.5h2M384 167.5h1M389 167.5h1M391 167.5h1M394 167.5h1M397 167.5h1M400 167.5h2M414 167.5h1M442 167.5h2M350 168.5h2M354 168.5h5M360 168.5h1M362 168.5h1M369 168.5h5M375 168.5h1M378 168.5h1M380 168.5h2M384 168.5h1M387 168.5h1M389 168.5h1M391 168.5h4M401 168.5h1M403 168.5h1M418 168.5h1M350 169.5h2M357 169.5h1M367 169.5h11M379 169.5h3M383 169.5h2M387 169.5h1M389 169.5h3M393 169.5h1M403 169.5h2M418 169.5h2M445 169.5h1M479 169.5h1M342 170.5h2M348 170.5h2M351 170.5h1M357 170.5h4M364 170.5h5M371 170.5h4M377 170.5h3M383 170.5h1M388 170.5h4M401 170.5h1M403 170.5h2M439 170.5h2M348 171.5h1M352 171.5h1M355 171.5h3M361 171.5h4M367 171.5h4M372 171.5h9M382 171.5h3M393 171.5h1M395 171.5h2M401 171.5h1M403 171.5h2M407 171.5h1M414 171.5h2M435 171.5h1M447 171.5h1M337 172.5h1M352 172.5h1M355 172.5h1M361 172.5h3M365 172.5h1M368 172.5h3M374 172.5h1M376 172.5h5M391 172.5h1M396 172.5h2M399 172.5h1M403 172.5h2M471 172.5h1M344 173.5h1M350 173.5h1M353 173.5h1M355 173.5h1M362 173.5h1M364 173.5h2M367 173.5h8M376 173.5h1M390 173.5h3M396 173.5h2M399 173.5h1M403 173.5h1M406 173.5h1M422 173.5h1M425 173.5h1M333 174.5h1M347 174.5h1M350 174.5h1M359 174.5h1M361 174.5h2M364 174.5h1M368 174.5h6M375 174.5h1M378 174.5h1M381 174.5h1M383 174.5h2M389 174.5h1M406 174.5h2M460 174.5h1M471 174.5h1M354 175.5h1M356 175.5h2M361 175.5h1M366 175.5h1M370 175.5h1M375 175.5h4M380 175.5h2M383 175.5h3M393 175.5h1M478 175.5h1M352 176.5h1M354 176.5h4M362 176.5h1M364 176.5h1M366 176.5h1M372 176.5h1M376 176.5h2M380 176.5h4M386 176.5h3M390 176.5h2M422 176.5h1M425 176.5h1M430 176.5h1M481 176.5h1M353 177.5h2M357 177.5h1M364 177.5h3M371 177.5h1M373 177.5h1M391 177.5h1M394 177.5h2M398 177.5h1M400 177.5h1M420 177.5h2M426 177.5h1M428 177.5h2M431 177.5h1M332 178.5h1M347 178.5h1M358 178.5h5M365 178.5h1M369 178.5h1M371 178.5h1M373 178.5h2M386 178.5h1M395 178.5h1M400 178.5h1M405 178.5h1M410 178.5h2M417 178.5h1M422 178.5h4M444 178.5h1M455 178.5h1M342 179.5h1M365 179.5h2M369 179.5h2M374 179.5h1M378 179.5h1M383 179.5h1M388 179.5h1M408 179.5h1M422 179.5h2M425 179.5h1M427 179.5h1M366 180.5h2M374 180.5h1M383 180.5h2M391 180.5h1M421 180.5h1M423 180.5h1M425 180.5h3M430 180.5h1M444 180.5h1M358 181.5h1M363 181.5h2M367 181.5h1M375 181.5h1M383 181.5h1M394 181.5h2M421 181.5h1M423 181.5h2M426 181.5h3M437 181.5h1M357 182.5h1M364 182.5h1M367 182.5h1M385 182.5h1M394 182.5h1M396 182.5h1M415 182.5h1M421 182.5h3M425 182.5h2M467 182.5h1M354 183.5h1M359 183.5h1M364 183.5h2M405 183.5h1M423 183.5h7M386 184.5h3M390 184.5h1M400 184.5h1M418 184.5h1M423 184.5h2M426 184.5h1M369 185.5h2M399 185.5h1M402 185.5h1M422 185.5h1M428 185.5h1M384 186.5h1M452 186.5h1" stroke="#000" stroke-width="1" fill="none"/>
<text transform="translate(1.05,272.8) scale(0.96,1)" font-size="30.6" font-weight="bold" stroke="none" text-anchor="start">B</text>
<text transform="translate(77.6,268.15) scale(1.035,1)" font-size="17.8" text-anchor="start">Liver mRNA expression</text>
<text transform="translate(24.9,512.5) rotate(-90) scale(0.957,1)" font-size="19.0" text-anchor="start">Relative Expression (fold)</text>
<text transform="translate(64.0,300.7) scale(0.96,1)" font-size="18.8" text-anchor="end">10</text>
<text transform="translate(62.6,358.7) scale(0.96,1)" font-size="18.8" text-anchor="end">1</text>
<text transform="translate(64.5,416.0) scale(0.96,1)" font-size="18.8" text-anchor="end">0.1</text>
<text transform="translate(67.8,474.3) scale(0.96,1)" font-size="18.8" text-anchor="end">0.01</text>
<text transform="translate(68.3,531.7) scale(0.92,1)" font-size="18.8" text-anchor="end">0.001</text>
<line x1="79.6" y1="298.3" x2="79.6" y2="525.6" stroke="#000" stroke-width="2.4"/>
<line x1="75.6" y1="524.6" x2="378.8" y2="524.6" stroke="#000" stroke-width="2.1"/>
<line x1="75.6" y1="299.2" x2="80" y2="299.2" stroke="#000" stroke-width="1.8"/>
<line x1="75.6" y1="355.9" x2="80" y2="355.9" stroke="#000" stroke-width="1.8"/>
<line x1="75.6" y1="411.8" x2="80" y2="411.8" stroke="#000" stroke-width="1.8"/>
<line x1="75.6" y1="468.2" x2="80" y2="468.2" stroke="#000" stroke-width="1.8"/>
<line x1="128.3" y1="303.7" x2="128.3" y2="314.7" stroke="#000" stroke-width="1.5"/>
<line x1="128.3" y1="326.8" x2="128.3" y2="337.8" stroke="#000" stroke-width="1.5"/>
<line x1="128.3" y1="349.90000000000003" x2="128.3" y2="360.90000000000003" stroke="#000" stroke-width="1.5"/>
<line x1="128.3" y1="373.00000000000006" x2="128.3" y2="384.00000000000006" stroke="#000" stroke-width="1.5"/>
<line x1="128.3" y1="396.1000000000001" x2="128.3" y2="407.1000000000001" stroke="#000" stroke-width="1.5"/>
<line x1="128.3" y1="419.2000000000001" x2="128.3" y2="430.2000000000001" stroke="#000" stroke-width="1.5"/>
<line x1="128.3" y1="442.3000000000001" x2="128.3" y2="453.3000000000001" stroke="#000" stroke-width="1.5"/>
<line x1="128.3" y1="465.40000000000015" x2="128.3" y2="476.40000000000015" stroke="#000" stroke-width="1.5"/>
<line x1="128.3" y1="488.50000000000017" x2="128.3" y2="499.50000000000017" stroke="#000" stroke-width="1.5"/>
<line x1="128.3" y1="511.6000000000002" x2="128.3" y2="522.6000000000001" stroke="#000" stroke-width="1.5"/>
<line x1="179.3" y1="303.7" x2="179.3" y2="314.7" stroke="#000" stroke-width="1.5"/>
<line x1="179.3" y1="326.8" x2="179.3" y2="337.8" stroke="#000" stroke-width="1.5"/>
<line x1="179.3" y1="349.90000000000003" x2="179.3" y2="360.90000000000003" stroke="#000" stroke-width="1.5"/>
<line x1="179.3" y1="373.00000000000006" x2="179.3" y2="384.00000000000006" stroke="#000" stroke-width="1.5"/>
<line x1="179.3" y1="396.1000000000001" x2="179.3" y2="407.1000000000001" stroke="#000" stroke-width="1.5"/>
<line x1="179.3" y1="419.2000000000001" x2="179.3" y2="430.2000000000001" stroke="#000" stroke-width="1.5"/>
<line x1="179.3" y1="442.3000000000001" x2="179.3" y2="453.3000000000001" stroke="#000" stroke-width="1.5"/>
<line x1="179.3" y1="465.40000000000015" x2="179.3" y2="476.40000000000015" stroke="#000" stroke-width="1.5"/>
<line x1="179.3" y1="488.50000000000017" x2="179.3" y2="499.50000000000017" stroke="#000" stroke-width="1.5"/>
<line x1="179.3" y1="511.6000000000002" x2="179.3" y2="522.6000000000001" stroke="#000" stroke-width="1.5"/>
<line x1="229.6" y1="303.7" x2="229.6" y2="314.7" stroke="#000" stroke-width="1.5"/>
<line x1="229.6" y1="326.8" x2="229.6" y2="337.8" stroke="#000" stroke-width="1.5"/>
<line x1="229.6" y1="349.90000000000003" x2="229.6" y2="360.90000000000003" stroke="#000" stroke-width="1.5"/>
<line x1="229.6" y1="373.00000000000006" x2="229.6" y2="384.00000000000006" stroke="#000" stroke-width="1.5"/>
<line x1="229.6" y1="396.1000000000001" x2="229.6" y2="407.1000000000001" stroke="#000" stroke-width="1.5"/>
<line x1="229.6" y1="419.2000000000001" x2="229.6" y2="430.2000000000001" stroke="#000" stroke-width="1.5"/>
<line x1="229.6" y1="442.3000000000001" x2="229.6" y2="453.3000000000001" stroke="#000" stroke-width="1.5"/>
<line x1="229.6" y1="465.40000000000015" x2="229.6" y2="476.40000000000015" stroke="#000" stroke-width="1.5"/>
<line x1="229.6" y1="488.50000000000017" x2="229.6" y2="499.50000000000017" stroke="#000" stroke-width="1.5"/>
<line x1="229.6" y1="511.6000000000002" x2="229.6" y2="522.6000000000001" stroke="#000" stroke-width="1.5"/>
<line x1="280.0" y1="303.7" x2="280.0" y2="314.7" stroke="#000" stroke-width="1.5"/>
<line x1="280.0" y1="326.8" x2="280.0" y2="337.8" stroke="#000" stroke-width="1.5"/>
<line x1="280.0" y1="349.90000000000003" x2="280.0" y2="360.90000000000003" stroke="#000" stroke-width="1.5"/>
<line x1="280.0" y1="373.00000000000006" x2="280.0" y2="384.00000000000006" stroke="#000" stroke-width="1.5"/>
<line x1="280.0" y1="396.1000000000001" x2="280.0" y2="407.1000000000001" stroke="#000" stroke-width="1.5"/>
<line x1="280.0" y1="419.2000000000001" x2="280.0" y2="430.2000000000001" stroke="#000" stroke-width="1.5"/>
<line x1="280.0" y1="442.3000000000001" x2="280.0" y2="453.3000000000001" stroke="#000" stroke-width="1.5"/>
<line x1="280.0" y1="465.40000000000015" x2="280.0" y2="476.40000000000015" stroke="#000" stroke-width="1.5"/>
<line x1="280.0" y1="488.50000000000017" x2="280.0" y2="499.50000000000017" stroke="#000" stroke-width="1.5"/>
<line x1="280.0" y1="511.6000000000002" x2="280.0" y2="522.6000000000001" stroke="#000" stroke-width="1.5"/>
<line x1="329.6" y1="303.7" x2="329.6" y2="314.7" stroke="#000" stroke-width="1.5"/>
<line x1="329.6" y1="326.8" x2="329.6" y2="337.8" stroke="#000" stroke-width="1.5"/>
<line x1="329.6" y1="349.90000000000003" x2="329.6" y2="360.90000000000003" stroke="#000" stroke-width="1.5"/>
<line x1="329.6" y1="373.00000000000006" x2="329.6" y2="384.00000000000006" stroke="#000" stroke-width="1.5"/>
<line x1="329.6" y1="396.1000000000001" x2="329.6" y2="407.1000000000001" stroke="#000" stroke-width="1.5"/>
<line x1="329.6" y1="419.2000000000001" x2="329.6" y2="430.2000000000001" stroke="#000" stroke-width="1.5"/>
<line x1="329.6" y1="442.3000000000001" x2="329.6" y2="453.3000000000001" stroke="#000" stroke-width="1.5"/>
<line x1="329.6" y1="465.40000000000015" x2="329.6" y2="476.40000000000015" stroke="#000" stroke-width="1.5"/>
<line x1="329.6" y1="488.50000000000017" x2="329.6" y2="499.50000000000017" stroke="#000" stroke-width="1.5"/>
<line x1="329.6" y1="511.6000000000002" x2="329.6" y2="522.6000000000001" stroke="#000" stroke-width="1.5"/>
<line x1="374.3" y1="303.7" x2="374.3" y2="314.7" stroke="#000" stroke-width="1.5"/>
<line x1="374.3" y1="326.8" x2="374.3" y2="337.8" stroke="#000" stroke-width="1.5"/>
<line x1="374.3" y1="349.90000000000003" x2="374.3" y2="360.90000000000003" stroke="#000" stroke-width="1.5"/>
<line x1="374.3" y1="373.00000000000006" x2="374.3" y2="384.00000000000006" stroke="#000" stroke-width="1.5"/>
<line x1="374.3" y1="396.1000000000001" x2="374.3" y2="407.1000000000001" stroke="#000" stroke-width="1.5"/>
<line x1="374.3" y1="419.2000000000001" x2="374.3" y2="430.2000000000001" stroke="#000" stroke-width="1.5"/>
<line x1="374.3" y1="442.3000000000001" x2="374.3" y2="453.3000000000001" stroke="#000" stroke-width="1.5"/>
<line x1="374.3" y1="465.40000000000015" x2="374.3" y2="476.40000000000015" stroke="#000" stroke-width="1.5"/>
<line x1="374.3" y1="488.50000000000017" x2="374.3" y2="499.50000000000017" stroke="#000" stroke-width="1.5"/>
<line x1="374.3" y1="511.6000000000002" x2="374.3" y2="522.6000000000001" stroke="#000" stroke-width="1.5"/>
<text transform="translate(106.7,313.2)" font-size="24" stroke-width="1.0" text-anchor="middle">*</text>
<text transform="translate(157.5,313.2)" font-size="24" stroke-width="1.0" text-anchor="middle">*</text>
<text transform="translate(72.7,554.6) scale(1.048,1)" font-size="18" font-style="italic" text-anchor="start">Smad4</text>
<text transform="translate(134.5,554.6) scale(1.039,1)" font-size="18" font-style="italic" text-anchor="start">Hepc</text>
<text transform="translate(185.7,554.6) scale(0.993,1)" font-size="18" font-style="italic" text-anchor="start">Dmt1</text>
<text transform="translate(232.3,554.6) scale(0.993,1)" font-size="18" font-style="italic" text-anchor="start">Dcytb</text>
<text transform="translate(291.5,554.6) scale(1.002,1)" font-size="18" font-style="italic" text-anchor="start">Fpn</text>
<text transform="translate(344.0,554.6) scale(1.002,1)" font-size="18" font-style="italic" text-anchor="start">Tf</text>
<line x1="83.7" y1="357.6" x2="101" y2="357.6" stroke="#000" stroke-width="1.4"/>
<ellipse cx="92.6" cy="354.4" rx="2.1" ry="4.1"/>
<ellipse cx="98.8" cy="357.5" rx="2.1" ry="4.1"/>
<ellipse cx="92.6" cy="369.4" rx="2.1" ry="4.1"/>
<path d="M115.05 410.90H118.95L117.00 419.30Z" fill="#fff" stroke="#000" stroke-width="1.1" stroke-linejoin="miter" stroke-miterlimit="10"/>
<path d="M109.35 421.40H113.25L111.30 429.80Z" fill="#fff" stroke="#000" stroke-width="1.1" stroke-linejoin="miter" stroke-miterlimit="10"/>
<path d="M115.05 431.40H118.95L117.00 439.80Z" fill="#fff" stroke="#000" stroke-width="1.1" stroke-linejoin="miter" stroke-miterlimit="10"/>
<path d="M115.05 447.60H118.95L117.00 456.00Z" fill="#fff" stroke="#000" stroke-width="1.1" stroke-linejoin="miter" stroke-miterlimit="10"/>
<line x1="108.7" y1="427.5" x2="125.5" y2="427.5" stroke="#000" stroke-width="1.4"/>
<line x1="133.3" y1="353.7" x2="150.6" y2="353.7" stroke="#000" stroke-width="1.4"/>
<ellipse cx="136.6" cy="349.3" rx="2.1" ry="4.1"/>
<ellipse cx="142.5" cy="362" rx="2.1" ry="4.1"/>
<ellipse cx="148.3" cy="357.5" rx="2.1" ry="4.1"/>
<path d="M164.85 438.40H168.75L166.80 446.80Z" fill="#fff" stroke="#000" stroke-width="1.1" stroke-linejoin="miter" stroke-miterlimit="10"/>
<line x1="158" y1="473.2" x2="175.7" y2="473.2" stroke="#000" stroke-width="1.4"/>
<path d="M159.05 521.90H162.95L161.00 530.30Z" fill="#fff" stroke="#000" stroke-width="1.1" stroke-linejoin="miter" stroke-miterlimit="10"/>
<path d="M164.85 521.90H168.75L166.80 530.30Z" fill="#fff" stroke="#000" stroke-width="1.1" stroke-linejoin="miter" stroke-miterlimit="10"/>
<path d="M170.55 521.90H174.45L172.50 530.30Z" fill="#fff" stroke="#000" stroke-width="1.1" stroke-linejoin="miter" stroke-miterlimit="10"/>
<line x1="184.5" y1="359.3" x2="202" y2="359.3" stroke="#000" stroke-width="1.4"/>
<ellipse cx="187.6" cy="351.3" rx="2.1" ry="4.1"/>
<ellipse cx="193.7" cy="357.5" rx="2.1" ry="4.1"/>
<ellipse cx="193.7" cy="378" rx="2.1" ry="4.1"/>
<path d="M210.05 343.40H213.95L212.00 351.80Z" fill="#fff" stroke="#000" stroke-width="1.1" stroke-linejoin="miter" stroke-miterlimit="10"/>
<path d="M216.05 341.40H219.95L218.00 349.80Z" fill="#fff" stroke="#000" stroke-width="1.1" stroke-linejoin="miter" stroke-miterlimit="10"/>
<path d="M216.05 356.40H219.95L218.00 364.80Z" fill="#fff" stroke="#000" stroke-width="1.1" stroke-linejoin="miter" stroke-miterlimit="10"/>
<path d="M216.05 395.90H219.95L218.00 404.30Z" fill="#fff" stroke="#000" stroke-width="1.1" stroke-linejoin="miter" stroke-miterlimit="10"/>
<line x1="209.5" y1="355.7" x2="226.7" y2="355.7" stroke="#000" stroke-width="1.4"/>
<line x1="234.5" y1="356.7" x2="251.3" y2="356.7" stroke="#000" stroke-width="1.4"/>
<ellipse cx="243.3" cy="350.7" rx="2.1" ry="4.1"/>
<ellipse cx="249.3" cy="357.5" rx="2.1" ry="4.1"/>
<ellipse cx="243.3" cy="368.3" rx="2.1" ry="4.1"/>
<path d="M260.05 343.90H263.95L262.00 352.30Z" fill="#fff" stroke="#000" stroke-width="1.1" stroke-linejoin="miter" stroke-miterlimit="10"/>
<path d="M265.85 340.90H269.75L267.80 349.30Z" fill="#fff" stroke="#000" stroke-width="1.1" stroke-linejoin="miter" stroke-miterlimit="10"/>
<path d="M271.85 347.60H275.75L273.80 356.00Z" fill="#fff" stroke="#000" stroke-width="1.1" stroke-linejoin="miter" stroke-miterlimit="10"/>
<path d="M260.05 355.10H263.95L262.00 363.50Z" fill="#fff" stroke="#000" stroke-width="1.1" stroke-linejoin="miter" stroke-miterlimit="10"/>
<path d="M265.85 356.40H269.75L267.80 364.80Z" fill="#fff" stroke="#000" stroke-width="1.1" stroke-linejoin="miter" stroke-miterlimit="10"/>
<path d="M271.85 360.10H275.75L273.80 368.50Z" fill="#fff" stroke="#000" stroke-width="1.1" stroke-linejoin="miter" stroke-miterlimit="10"/>
<path d="M265.85 370.10H269.75L267.80 378.50Z" fill="#fff" stroke="#000" stroke-width="1.1" stroke-linejoin="miter" stroke-miterlimit="10"/>
<line x1="259.3" y1="356.2" x2="276.7" y2="356.2" stroke="#000" stroke-width="1.4"/>
<line x1="283.7" y1="355" x2="301.3" y2="355" stroke="#000" stroke-width="1.4"/>
<ellipse cx="287" cy="353.7" rx="2.1" ry="4.1"/>
<ellipse cx="292.8" cy="358.7" rx="2.1" ry="4.1"/>
<ellipse cx="298.8" cy="357.5" rx="2.1" ry="4.1"/>
<path d="M315.05 350.10H318.95L317.00 358.50Z" fill="#fff" stroke="#000" stroke-width="1.1" stroke-linejoin="miter" stroke-miterlimit="10"/>
<path d="M312.05 355.10H315.95L314.00 363.50Z" fill="#fff" stroke="#000" stroke-width="1.1" stroke-linejoin="miter" stroke-miterlimit="10"/>
<path d="M318.05 355.10H321.95L320.00 363.50Z" fill="#fff" stroke="#000" stroke-width="1.1" stroke-linejoin="miter" stroke-miterlimit="10"/>
<path d="M309.05 359.40H312.95L311.00 367.80Z" fill="#fff" stroke="#000" stroke-width="1.1" stroke-linejoin="miter" stroke-miterlimit="10"/>
<path d="M315.05 359.90H318.95L317.00 368.30Z" fill="#fff" stroke="#000" stroke-width="1.1" stroke-linejoin="miter" stroke-miterlimit="10"/>
<path d="M321.05 359.40H324.95L323.00 367.80Z" fill="#fff" stroke="#000" stroke-width="1.1" stroke-linejoin="miter" stroke-miterlimit="10"/>
<path d="M315.05 368.40H318.95L317.00 376.80Z" fill="#fff" stroke="#000" stroke-width="1.1" stroke-linejoin="miter" stroke-miterlimit="10"/>
<path d="M315.05 383.90H318.95L317.00 392.30Z" fill="#fff" stroke="#000" stroke-width="1.1" stroke-linejoin="miter" stroke-miterlimit="10"/>
<path d="M315.05 403.90H318.95L317.00 412.30Z" fill="#fff" stroke="#000" stroke-width="1.1" stroke-linejoin="miter" stroke-miterlimit="10"/>
<line x1="308.7" y1="366.7" x2="326.3" y2="366.7" stroke="#000" stroke-width="1.4"/>
<line x1="330" y1="355" x2="347.5" y2="355" stroke="#000" stroke-width="1.4"/>
<ellipse cx="336.5" cy="350.7" rx="2.1" ry="4.1"/>
<ellipse cx="335" cy="361.2" rx="2.1" ry="4.1"/>
<ellipse cx="343.7" cy="352.5" rx="2.1" ry="4.1"/>
<path d="M361.05 337.60H364.95L363.00 346.00Z" fill="#fff" stroke="#000" stroke-width="1.1" stroke-linejoin="miter" stroke-miterlimit="10"/>
<path d="M361.05 346.40H364.95L363.00 354.80Z" fill="#fff" stroke="#000" stroke-width="1.1" stroke-linejoin="miter" stroke-miterlimit="10"/>
<path d="M358.05 348.90H361.95L360.00 357.30Z" fill="#fff" stroke="#000" stroke-width="1.1" stroke-linejoin="miter" stroke-miterlimit="10"/>
<path d="M364.05 348.90H367.95L366.00 357.30Z" fill="#fff" stroke="#000" stroke-width="1.1" stroke-linejoin="miter" stroke-miterlimit="10"/>
<path d="M355.05 351.90H358.95L357.00 360.30Z" fill="#fff" stroke="#000" stroke-width="1.1" stroke-linejoin="miter" stroke-miterlimit="10"/>
<path d="M361.05 353.90H364.95L363.00 362.30Z" fill="#fff" stroke="#000" stroke-width="1.1" stroke-linejoin="miter" stroke-miterlimit="10"/>
<path d="M367.55 353.90H371.45L369.50 362.30Z" fill="#fff" stroke="#000" stroke-width="1.1" stroke-linejoin="miter" stroke-miterlimit="10"/>
<path d="M361.05 360.10H364.95L363.00 368.50Z" fill="#fff" stroke="#000" stroke-width="1.1" stroke-linejoin="miter" stroke-miterlimit="10"/>
<path d="M367.55 360.10H371.45L369.50 368.50Z" fill="#fff" stroke="#000" stroke-width="1.1" stroke-linejoin="miter" stroke-miterlimit="10"/>
<line x1="354.5" y1="353.7" x2="372" y2="353.7" stroke="#000" stroke-width="1.4"/>
<text transform="translate(411.5,315.7)" font-size="24" stroke-width="1.0" text-anchor="middle">*</text>
<text transform="translate(420.3,318.3) scale(1.02,1)" font-size="17.6" font-style="italic" text-anchor="start">P &lt; .05</text>
<ellipse cx="413.3" cy="373" rx="2.8" ry="5.2"/>
<path d="M411.30 401.70H415.50L413.40 411.30Z" fill="#fff" stroke="#000" stroke-width="1.1" stroke-linejoin="miter" stroke-miterlimit="10"/>
<text transform="translate(427.8,378.8) scale(1.065,1)" font-size="17.4" font-style="italic" text-anchor="start">Smad4</text>
<text transform="translate(488.5,371.5) scale(0.96,1)" font-size="14.0" font-style="italic" text-anchor="start">fl/fl</text>
<text transform="translate(427.8,410.7) scale(1.065,1)" font-size="17.4" font-style="italic" text-anchor="start">Smad4</text>
<text transform="translate(488.3,402.2) scale(0.965,1)" font-size="13" text-anchor="start">Δ/Δ</text>
<text transform="translate(0.96,602.0) scale(0.975,1)" font-size="29.9" font-weight="bold" stroke="none" text-anchor="start">C</text>
<text transform="translate(77.4,592.8) scale(1.035,1)" font-size="17.8" text-anchor="start">Duodenum mRNA expression</text>
<text transform="translate(27.0,840.1) rotate(-90) scale(1.034,1)" font-size="18.0" text-anchor="start">Relative Expression (fold)</text>
<text transform="translate(37.8,622.7) scale(1.013,1)" font-size="17.8" text-anchor="start">100</text>
<text transform="translate(42.8,697.8) scale(1.013,1)" font-size="17.8" text-anchor="start">10</text>
<text transform="translate(47.3,774.3) scale(1.013,1)" font-size="17.8" text-anchor="start">1</text>
<text transform="translate(35.3,840.7) scale(1.013,1)" font-size="17.8" text-anchor="start">0.1</text>
<line x1="76.2" y1="614.8" x2="76.2" y2="841.9" stroke="#000" stroke-width="2.3"/>
<line x1="71.2" y1="840.9" x2="519" y2="840.9" stroke="#000" stroke-width="2.1"/>
<line x1="71.2" y1="615.8" x2="76.5" y2="615.8" stroke="#000" stroke-width="1.9"/>
<line x1="71.2" y1="690.7" x2="76.5" y2="690.7" stroke="#000" stroke-width="1.9"/>
<line x1="71.2" y1="765.5" x2="76.5" y2="765.5" stroke="#000" stroke-width="1.9"/>
<line x1="124.4" y1="621.5" x2="124.4" y2="632.3" stroke="#000" stroke-width="1.5"/>
<line x1="124.4" y1="644.6" x2="124.4" y2="655.4" stroke="#000" stroke-width="1.5"/>
<line x1="124.4" y1="667.7" x2="124.4" y2="678.5" stroke="#000" stroke-width="1.5"/>
<line x1="124.4" y1="690.8000000000001" x2="124.4" y2="701.6" stroke="#000" stroke-width="1.5"/>
<line x1="124.4" y1="713.9000000000001" x2="124.4" y2="724.7" stroke="#000" stroke-width="1.5"/>
<line x1="124.4" y1="737.0000000000001" x2="124.4" y2="747.8000000000001" stroke="#000" stroke-width="1.5"/>
<line x1="124.4" y1="760.1000000000001" x2="124.4" y2="770.9000000000001" stroke="#000" stroke-width="1.5"/>
<line x1="124.4" y1="783.2000000000002" x2="124.4" y2="794.0000000000001" stroke="#000" stroke-width="1.5"/>
<line x1="124.4" y1="806.3000000000002" x2="124.4" y2="817.1000000000001" stroke="#000" stroke-width="1.5"/>
<line x1="124.4" y1="829.4000000000002" x2="124.4" y2="840" stroke="#000" stroke-width="1.5"/>
<line x1="173.8" y1="621.5" x2="173.8" y2="632.3" stroke="#000" stroke-width="1.5"/>
<line x1="173.8" y1="644.6" x2="173.8" y2="655.4" stroke="#000" stroke-width="1.5"/>
<line x1="173.8" y1="667.7" x2="173.8" y2="678.5" stroke="#000" stroke-width="1.5"/>
<line x1="173.8" y1="690.8000000000001" x2="173.8" y2="701.6" stroke="#000" stroke-width="1.5"/>
<line x1="173.8" y1="713.9000000000001" x2="173.8" y2="724.7" stroke="#000" stroke-width="1.5"/>
<line x1="173.8" y1="737.0000000000001" x2="173.8" y2="747.8000000000001" stroke="#000" stroke-width="1.5"/>
<line x1="173.8" y1="760.1000000000001" x2="173.8" y2="770.9000000000001" stroke="#000" stroke-width="1.5"/>
<line x1="173.8" y1="783.2000000000002" x2="173.8" y2="794.0000000000001" stroke="#000" stroke-width="1.5"/>
<line x1="173.8" y1="806.3000000000002" x2="173.8" y2="817.1000000000001" stroke="#000" stroke-width="1.5"/>
<line x1="173.8" y1="829.4000000000002" x2="173.8" y2="840" stroke="#000" stroke-width="1.5"/>
<line x1="221.8" y1="621.5" x2="221.8" y2="632.3" stroke="#000" stroke-width="1.5"/>
<line x1="221.8" y1="644.6" x2="221.8" y2="655.4" stroke="#000" stroke-width="1.5"/>
<line x1="221.8" y1="667.7" x2="221.8" y2="678.5" stroke="#000" stroke-width="1.5"/>
<line x1="221.8" y1="690.8000000000001" x2="221.8" y2="701.6" stroke="#000" stroke-width="1.5"/>
<line x1="221.8" y1="713.9000000000001" x2="221.8" y2="724.7" stroke="#000" stroke-width="1.5"/>
<line x1="221.8" y1="737.0000000000001" x2="221.8" y2="747.8000000000001" stroke="#000" stroke-width="1.5"/>
<line x1="221.8" y1="760.1000000000001" x2="221.8" y2="770.9000000000001" stroke="#000" stroke-width="1.5"/>
<line x1="221.8" y1="783.2000000000002" x2="221.8" y2="794.0000000000001" stroke="#000" stroke-width="1.5"/>
<line x1="221.8" y1="806.3000000000002" x2="221.8" y2="817.1000000000001" stroke="#000" stroke-width="1.5"/>
<line x1="221.8" y1="829.4000000000002" x2="221.8" y2="840" stroke="#000" stroke-width="1.5"/>
<line x1="273.8" y1="621.5" x2="273.8" y2="632.3" stroke="#000" stroke-width="1.5"/>
<line x1="273.8" y1="644.6" x2="273.8" y2="655.4" stroke="#000" stroke-width="1.5"/>
<line x1="273.8" y1="667.7" x2="273.8" y2="678.5" stroke="#000" stroke-width="1.5"/>
<line x1="273.8" y1="690.8000000000001" x2="273.8" y2="701.6" stroke="#000" stroke-width="1.5"/>
<line x1="273.8" y1="713.9000000000001" x2="273.8" y2="724.7" stroke="#000" stroke-width="1.5"/>
<line x1="273.8" y1="737.0000000000001" x2="273.8" y2="747.8000000000001" stroke="#000" stroke-width="1.5"/>
<line x1="273.8" y1="760.1000000000001" x2="273.8" y2="770.9000000000001" stroke="#000" stroke-width="1.5"/>
<line x1="273.8" y1="783.2000000000002" x2="273.8" y2="794.0000000000001" stroke="#000" stroke-width="1.5"/>
<line x1="273.8" y1="806.3000000000002" x2="273.8" y2="817.1000000000001" stroke="#000" stroke-width="1.5"/>
<line x1="273.8" y1="829.4000000000002" x2="273.8" y2="840" stroke="#000" stroke-width="1.5"/>
<line x1="323.0" y1="621.5" x2="323.0" y2="632.3" stroke="#000" stroke-width="1.5"/>
<line x1="323.0" y1="644.6" x2="323.0" y2="655.4" stroke="#000" stroke-width="1.5"/>
<line x1="323.0" y1="667.7" x2="323.0" y2="678.5" stroke="#000" stroke-width="1.5"/>
<line x1="323.0" y1="690.8000000000001" x2="323.0" y2="701.6" stroke="#000" stroke-width="1.5"/>
<line x1="323.0" y1="713.9000000000001" x2="323.0" y2="724.7" stroke="#000" stroke-width="1.5"/>
<line x1="323.0" y1="737.0000000000001" x2="323.0" y2="747.8000000000001" stroke="#000" stroke-width="1.5"/>
<line x1="323.0" y1="760.1000000000001" x2="323.0" y2="770.9000000000001" stroke="#000" stroke-width="1.5"/>
<line x1="323.0" y1="783.2000000000002" x2="323.0" y2="794.0000000000001" stroke="#000" stroke-width="1.5"/>
<line x1="323.0" y1="806.3000000000002" x2="323.0" y2="817.1000000000001" stroke="#000" stroke-width="1.5"/>
<line x1="323.0" y1="829.4000000000002" x2="323.0" y2="840" stroke="#000" stroke-width="1.5"/>
<line x1="372.5" y1="621.5" x2="372.5" y2="632.3" stroke="#000" stroke-width="1.5"/>
<line x1="372.5" y1="644.6" x2="372.5" y2="655.4" stroke="#000" stroke-width="1.5"/>
<line x1="372.5" y1="667.7" x2="372.5" y2="678.5" stroke="#000" stroke-width="1.5"/>
<line x1="372.5" y1="690.8000000000001" x2="372.5" y2="701.6" stroke="#000" stroke-width="1.5"/>
<line x1="372.5" y1="713.9000000000001" x2="372.5" y2="724.7" stroke="#000" stroke-width="1.5"/>
<line x1="372.5" y1="737.0000000000001" x2="372.5" y2="747.8000000000001" stroke="#000" stroke-width="1.5"/>
<line x1="372.5" y1="760.1000000000001" x2="372.5" y2="770.9000000000001" stroke="#000" stroke-width="1.5"/>
<line x1="372.5" y1="783.2000000000002" x2="372.5" y2="794.0000000000001" stroke="#000" stroke-width="1.5"/>
<line x1="372.5" y1="806.3000000000002" x2="372.5" y2="817.1000000000001" stroke="#000" stroke-width="1.5"/>
<line x1="372.5" y1="829.4000000000002" x2="372.5" y2="840" stroke="#000" stroke-width="1.5"/>
<line x1="422.0" y1="621.5" x2="422.0" y2="632.3" stroke="#000" stroke-width="1.5"/>
<line x1="422.0" y1="644.6" x2="422.0" y2="655.4" stroke="#000" stroke-width="1.5"/>
<line x1="422.0" y1="667.7" x2="422.0" y2="678.5" stroke="#000" stroke-width="1.5"/>
<line x1="422.0" y1="690.8000000000001" x2="422.0" y2="701.6" stroke="#000" stroke-width="1.5"/>
<line x1="422.0" y1="713.9000000000001" x2="422.0" y2="724.7" stroke="#000" stroke-width="1.5"/>
<line x1="422.0" y1="737.0000000000001" x2="422.0" y2="747.8000000000001" stroke="#000" stroke-width="1.5"/>
<line x1="422.0" y1="760.1000000000001" x2="422.0" y2="770.9000000000001" stroke="#000" stroke-width="1.5"/>
<line x1="422.0" y1="783.2000000000002" x2="422.0" y2="794.0000000000001" stroke="#000" stroke-width="1.5"/>
<line x1="422.0" y1="806.3000000000002" x2="422.0" y2="817.1000000000001" stroke="#000" stroke-width="1.5"/>
<line x1="422.0" y1="829.4000000000002" x2="422.0" y2="840" stroke="#000" stroke-width="1.5"/>
<line x1="469.2" y1="621.5" x2="469.2" y2="632.3" stroke="#000" stroke-width="1.5"/>
<line x1="469.2" y1="644.6" x2="469.2" y2="655.4" stroke="#000" stroke-width="1.5"/>
<line x1="469.2" y1="667.7" x2="469.2" y2="678.5" stroke="#000" stroke-width="1.5"/>
<line x1="469.2" y1="690.8000000000001" x2="469.2" y2="701.6" stroke="#000" stroke-width="1.5"/>
<line x1="469.2" y1="713.9000000000001" x2="469.2" y2="724.7" stroke="#000" stroke-width="1.5"/>
<line x1="469.2" y1="737.0000000000001" x2="469.2" y2="747.8000000000001" stroke="#000" stroke-width="1.5"/>
<line x1="469.2" y1="760.1000000000001" x2="469.2" y2="770.9000000000001" stroke="#000" stroke-width="1.5"/>
<line x1="469.2" y1="783.2000000000002" x2="469.2" y2="794.0000000000001" stroke="#000" stroke-width="1.5"/>
<line x1="469.2" y1="806.3000000000002" x2="469.2" y2="817.1000000000001" stroke="#000" stroke-width="1.5"/>
<line x1="469.2" y1="829.4000000000002" x2="469.2" y2="840" stroke="#000" stroke-width="1.5"/>
<text transform="translate(201.3,628.6)" font-size="23.5" stroke-width="1.0" text-anchor="middle">*</text>
<text transform="translate(250,628.6)" font-size="23.5" stroke-width="1.0" text-anchor="middle">*</text>
<text transform="translate(396.3,628.6)" font-size="23.5" stroke-width="1.0" text-anchor="middle">*</text>
<text transform="translate(71.0,860.8) scale(1.013,1)" font-size="17.8" font-style="italic" text-anchor="start">Smad4</text>
<text transform="translate(139.5,860.8) scale(1.013,1)" font-size="17.8" font-style="italic" text-anchor="start">Hfe</text>
<text transform="translate(178.0,860.8) scale(1.013,1)" font-size="17.8" font-style="italic" text-anchor="start">Dmt1</text>
<text transform="translate(224.3,860.8) scale(1.013,1)" font-size="17.8" font-style="italic" text-anchor="start">Dcytb</text>
<text transform="translate(283.3,860.8) scale(1.013,1)" font-size="17.8" font-style="italic" text-anchor="start">Fpn</text>
<text transform="translate(334.5,860.8) scale(1.013,1)" font-size="17.8" font-style="italic" text-anchor="start">Tfr1</text>
<text transform="translate(382.2,860.8) scale(1.013,1)" font-size="17.8" font-style="italic" text-anchor="start">Tfr2</text>
<text transform="translate(424.0,860.8) scale(1.013,1)" font-size="17.8" font-style="italic" text-anchor="start">Heph</text>
<text transform="translate(481.5,860.8) scale(1.013,1)" font-size="17.8" font-style="italic" text-anchor="start">Sft</text>
<ellipse cx="80.8" cy="761.4" rx="2.8" ry="3.9"/>
<ellipse cx="89.5" cy="767.8" rx="2.8" ry="3.9"/>
<ellipse cx="89.5" cy="784.2" rx="2.8" ry="3.9"/>
<line x1="80" y1="768.7" x2="98" y2="768.7" stroke="#000" stroke-width="1.4"/>
<path d="M110.75 761.40H116.25L113.50 770.00Z" fill="#fff" stroke="#000" stroke-width="1.25" stroke-linejoin="miter" stroke-miterlimit="10"/>
<path d="M105.95 784.20H111.45L108.70 792.80Z" fill="#fff" stroke="#000" stroke-width="1.25" stroke-linejoin="miter" stroke-miterlimit="10"/>
<path d="M110.35 794.20H115.85L113.10 802.80Z" fill="#fff" stroke="#000" stroke-width="1.25" stroke-linejoin="miter" stroke-miterlimit="10"/>
<path d="M114.85 794.20H120.35L117.60 802.80Z" fill="#fff" stroke="#000" stroke-width="1.25" stroke-linejoin="miter" stroke-miterlimit="10"/>
<line x1="105" y1="784.2" x2="122.5" y2="784.2" stroke="#000" stroke-width="1.4"/>
<ellipse cx="132" cy="756.7" rx="2.8" ry="3.9"/>
<ellipse cx="138" cy="767.5" rx="2.8" ry="3.9"/>
<ellipse cx="138" cy="798.2" rx="2.8" ry="3.9"/>
<line x1="129.3" y1="768.7" x2="146.3" y2="768.7" stroke="#000" stroke-width="1.4"/>
<path d="M159.75 725.00H165.25L162.50 733.60Z" fill="#fff" stroke="#000" stroke-width="1.25" stroke-linejoin="miter" stroke-miterlimit="10"/>
<path d="M154.75 740.70H160.25L157.50 749.30Z" fill="#fff" stroke="#000" stroke-width="1.25" stroke-linejoin="miter" stroke-miterlimit="10"/>
<path d="M164.25 748.20H169.75L167.00 756.80Z" fill="#fff" stroke="#000" stroke-width="1.25" stroke-linejoin="miter" stroke-miterlimit="10"/>
<path d="M159.75 753.20H165.25L162.50 761.80Z" fill="#fff" stroke="#000" stroke-width="1.25" stroke-linejoin="miter" stroke-miterlimit="10"/>
<path d="M150.55 761.40H156.05L153.30 770.00Z" fill="#fff" stroke="#000" stroke-width="1.25" stroke-linejoin="miter" stroke-miterlimit="10"/>
<path d="M159.75 770.20H165.25L162.50 778.80Z" fill="#fff" stroke="#000" stroke-width="1.25" stroke-linejoin="miter" stroke-miterlimit="10"/>
<path d="M159.75 785.70H165.25L162.50 794.30Z" fill="#fff" stroke="#000" stroke-width="1.25" stroke-linejoin="miter" stroke-miterlimit="10"/>
<line x1="153.7" y1="741.2" x2="171.3" y2="741.2" stroke="#000" stroke-width="1.4"/>
<ellipse cx="187" cy="745" rx="2.8" ry="3.9"/>
<ellipse cx="191.5" cy="766.7" rx="2.8" ry="3.9"/>
<ellipse cx="187" cy="772.7" rx="2.8" ry="3.9"/>
<line x1="177.7" y1="758.1" x2="195.3" y2="758.1" stroke="#000" stroke-width="1.4"/>
<path d="M208.55 668.70H214.05L211.30 677.30Z" fill="#fff" stroke="#000" stroke-width="1.25" stroke-linejoin="miter" stroke-miterlimit="10"/>
<path d="M208.55 683.20H214.05L211.30 691.80Z" fill="#fff" stroke="#000" stroke-width="1.25" stroke-linejoin="miter" stroke-miterlimit="10"/>
<path d="M208.55 698.20H214.05L211.30 706.80Z" fill="#fff" stroke="#000" stroke-width="1.25" stroke-linejoin="miter" stroke-miterlimit="10"/>
<path d="M208.55 712.70H214.05L211.30 721.30Z" fill="#fff" stroke="#000" stroke-width="1.25" stroke-linejoin="miter" stroke-miterlimit="10"/>
<line x1="202" y1="691.2" x2="220" y2="691.2" stroke="#000" stroke-width="1.4"/>
<ellipse cx="236.3" cy="751.2" rx="2.8" ry="3.9"/>
<ellipse cx="236.3" cy="766.7" rx="2.8" ry="3.9"/>
<ellipse cx="236.3" cy="795.7" rx="2.8" ry="3.9"/>
<line x1="227" y1="765.5" x2="244.5" y2="765.5" stroke="#000" stroke-width="1.4"/>
<path d="M257.25 629.40H262.75L260.00 638.00Z" fill="#fff" stroke="#000" stroke-width="1.25" stroke-linejoin="miter" stroke-miterlimit="10"/>
<path d="M257.25 669.90H262.75L260.00 678.50Z" fill="#fff" stroke="#000" stroke-width="1.25" stroke-linejoin="miter" stroke-miterlimit="10"/>
<path d="M256.55 707.40H262.05L259.30 716.00Z" fill="#fff" stroke="#000" stroke-width="1.25" stroke-linejoin="miter" stroke-miterlimit="10"/>
<path d="M261.05 704.40H266.55L263.80 713.00Z" fill="#fff" stroke="#000" stroke-width="1.25" stroke-linejoin="miter" stroke-miterlimit="10"/>
<line x1="251.3" y1="665.7" x2="269.3" y2="665.7" stroke="#000" stroke-width="1.4"/>
<ellipse cx="283" cy="761" rx="2.8" ry="3.9"/>
<ellipse cx="287" cy="767.5" rx="2.8" ry="3.9"/>
<ellipse cx="291.9" cy="767.5" rx="2.8" ry="3.9"/>
<line x1="277.5" y1="764.3" x2="295" y2="764.3" stroke="#000" stroke-width="1.4"/>
<path d="M299.75 751.90H305.25L302.50 760.50Z" fill="#fff" stroke="#000" stroke-width="1.25" stroke-linejoin="miter" stroke-miterlimit="10"/>
<path d="M312.75 749.90H318.25L315.50 758.50Z" fill="#fff" stroke="#000" stroke-width="1.25" stroke-linejoin="miter" stroke-miterlimit="10"/>
<path d="M308.55 753.20H314.05L311.30 761.80Z" fill="#fff" stroke="#000" stroke-width="1.25" stroke-linejoin="miter" stroke-miterlimit="10"/>
<path d="M304.25 756.90H309.75L307.00 765.50Z" fill="#fff" stroke="#000" stroke-width="1.25" stroke-linejoin="miter" stroke-miterlimit="10"/>
<path d="M308.55 759.40H314.05L311.30 768.00Z" fill="#fff" stroke="#000" stroke-width="1.25" stroke-linejoin="miter" stroke-miterlimit="10"/>
<path d="M312.75 760.70H318.25L315.50 769.30Z" fill="#fff" stroke="#000" stroke-width="1.25" stroke-linejoin="miter" stroke-miterlimit="10"/>
<path d="M304.25 764.40H309.75L307.00 773.00Z" fill="#fff" stroke="#000" stroke-width="1.25" stroke-linejoin="miter" stroke-miterlimit="10"/>
<path d="M312.75 763.20H318.25L315.50 771.80Z" fill="#fff" stroke="#000" stroke-width="1.25" stroke-linejoin="miter" stroke-miterlimit="10"/>
<path d="M308.55 768.20H314.05L311.30 776.80Z" fill="#fff" stroke="#000" stroke-width="1.25" stroke-linejoin="miter" stroke-miterlimit="10"/>
<line x1="303" y1="763.2" x2="320" y2="763.2" stroke="#000" stroke-width="1.4"/>
<ellipse cx="334.5" cy="766.2" rx="2.8" ry="3.9"/>
<ellipse cx="343" cy="766.2" rx="2.8" ry="3.9"/>
<ellipse cx="338.8" cy="772.5" rx="2.8" ry="3.9"/>
<ellipse cx="338.8" cy="768.0" rx="2.8" ry="3.9"/>
<line x1="328.7" y1="767.5" x2="345" y2="767.5" stroke="#000" stroke-width="1.4"/>
<path d="M359.75 702.70H365.25L362.50 711.30Z" fill="#fff" stroke="#000" stroke-width="1.25" stroke-linejoin="miter" stroke-miterlimit="10"/>
<path d="M359.75 726.90H365.25L362.50 735.50Z" fill="#fff" stroke="#000" stroke-width="1.25" stroke-linejoin="miter" stroke-miterlimit="10"/>
<path d="M364.05 733.70H369.55L366.80 742.30Z" fill="#fff" stroke="#000" stroke-width="1.25" stroke-linejoin="miter" stroke-miterlimit="10"/>
<path d="M359.75 742.70H365.25L362.50 751.30Z" fill="#fff" stroke="#000" stroke-width="1.25" stroke-linejoin="miter" stroke-miterlimit="10"/>
<path d="M363.55 759.40H369.05L366.30 768.00Z" fill="#fff" stroke="#000" stroke-width="1.25" stroke-linejoin="miter" stroke-miterlimit="10"/>
<path d="M351.05 768.20H356.55L353.80 776.80Z" fill="#fff" stroke="#000" stroke-width="1.25" stroke-linejoin="miter" stroke-miterlimit="10"/>
<path d="M359.25 769.40H364.75L362.00 778.00Z" fill="#fff" stroke="#000" stroke-width="1.25" stroke-linejoin="miter" stroke-miterlimit="10"/>
<path d="M359.75 794.40H365.25L362.50 803.00Z" fill="#fff" stroke="#000" stroke-width="1.25" stroke-linejoin="miter" stroke-miterlimit="10"/>
<line x1="353.7" y1="742.5" x2="371.3" y2="742.5" stroke="#000" stroke-width="1.4"/>
<ellipse cx="377.5" cy="761.2" rx="2.8" ry="3.9"/>
<ellipse cx="386.3" cy="766.7" rx="2.8" ry="3.9"/>
<ellipse cx="386.3" cy="791.7" rx="2.8" ry="3.9"/>
<line x1="377" y1="769.5" x2="394.3" y2="769.5" stroke="#000" stroke-width="1.4"/>
<path d="M406.75 654.40H412.25L409.50 663.00Z" fill="#fff" stroke="#000" stroke-width="1.25" stroke-linejoin="miter" stroke-miterlimit="10"/>
<path d="M406.75 686.20H412.25L409.50 694.80Z" fill="#fff" stroke="#000" stroke-width="1.25" stroke-linejoin="miter" stroke-miterlimit="10"/>
<path d="M398.55 706.20H404.05L401.30 714.80Z" fill="#fff" stroke="#000" stroke-width="1.25" stroke-linejoin="miter" stroke-miterlimit="10"/>
<path d="M406.75 716.40H412.25L409.50 725.00Z" fill="#fff" stroke="#000" stroke-width="1.25" stroke-linejoin="miter" stroke-miterlimit="10"/>
<path d="M407.25 734.40H412.75L410.00 743.00Z" fill="#fff" stroke="#000" stroke-width="1.25" stroke-linejoin="miter" stroke-miterlimit="10"/>
<path d="M407.25 755.70H412.75L410.00 764.30Z" fill="#fff" stroke="#000" stroke-width="1.25" stroke-linejoin="miter" stroke-miterlimit="10"/>
<path d="M407.25 794.40H412.75L410.00 803.00Z" fill="#fff" stroke="#000" stroke-width="1.25" stroke-linejoin="miter" stroke-miterlimit="10"/>
<line x1="401.3" y1="701.2" x2="418.7" y2="701.2" stroke="#000" stroke-width="1.4"/>
<ellipse cx="426.8" cy="762.5" rx="2.8" ry="3.9"/>
<ellipse cx="435" cy="767.5" rx="2.8" ry="3.9"/>
<ellipse cx="435" cy="784.5" rx="2.8" ry="3.9"/>
<line x1="425" y1="768.7" x2="442.5" y2="768.7" stroke="#000" stroke-width="1.4"/>
<path d="M447.25 766.20H452.75L450.00 774.80Z" fill="#fff" stroke="#000" stroke-width="1.25" stroke-linejoin="miter" stroke-miterlimit="10"/>
<path d="M460.25 764.40H465.75L463.00 773.00Z" fill="#fff" stroke="#000" stroke-width="1.25" stroke-linejoin="miter" stroke-miterlimit="10"/>
<path d="M456.05 770.20H461.55L458.80 778.80Z" fill="#fff" stroke="#000" stroke-width="1.25" stroke-linejoin="miter" stroke-miterlimit="10"/>
<path d="M456.05 788.70H461.55L458.80 797.30Z" fill="#fff" stroke="#000" stroke-width="1.25" stroke-linejoin="miter" stroke-miterlimit="10"/>
<line x1="450" y1="775.5" x2="467.5" y2="775.5" stroke="#000" stroke-width="1.4"/>
<ellipse cx="477" cy="766.2" rx="2.8" ry="3.9"/>
<ellipse cx="485.8" cy="766.2" rx="2.8" ry="3.9"/>
<ellipse cx="481.5" cy="772" rx="2.8" ry="3.9"/>
<line x1="472.5" y1="766.7" x2="488.7" y2="766.7" stroke="#000" stroke-width="1.4"/>
<path d="M494.25 750.20H499.75L497.00 758.80Z" fill="#fff" stroke="#000" stroke-width="1.25" stroke-linejoin="miter" stroke-miterlimit="10"/>
<path d="M502.25 753.90H507.75L505.00 762.50Z" fill="#fff" stroke="#000" stroke-width="1.25" stroke-linejoin="miter" stroke-miterlimit="10"/>
<path d="M506.75 768.20H512.25L509.50 776.80Z" fill="#fff" stroke="#000" stroke-width="1.25" stroke-linejoin="miter" stroke-miterlimit="10"/>
<path d="M502.25 773.70H507.75L505.00 782.30Z" fill="#fff" stroke="#000" stroke-width="1.25" stroke-linejoin="miter" stroke-miterlimit="10"/>
<line x1="496.3" y1="764.2" x2="513.7" y2="764.2" stroke="#000" stroke-width="1.4"/>
</svg>
</body></html>
